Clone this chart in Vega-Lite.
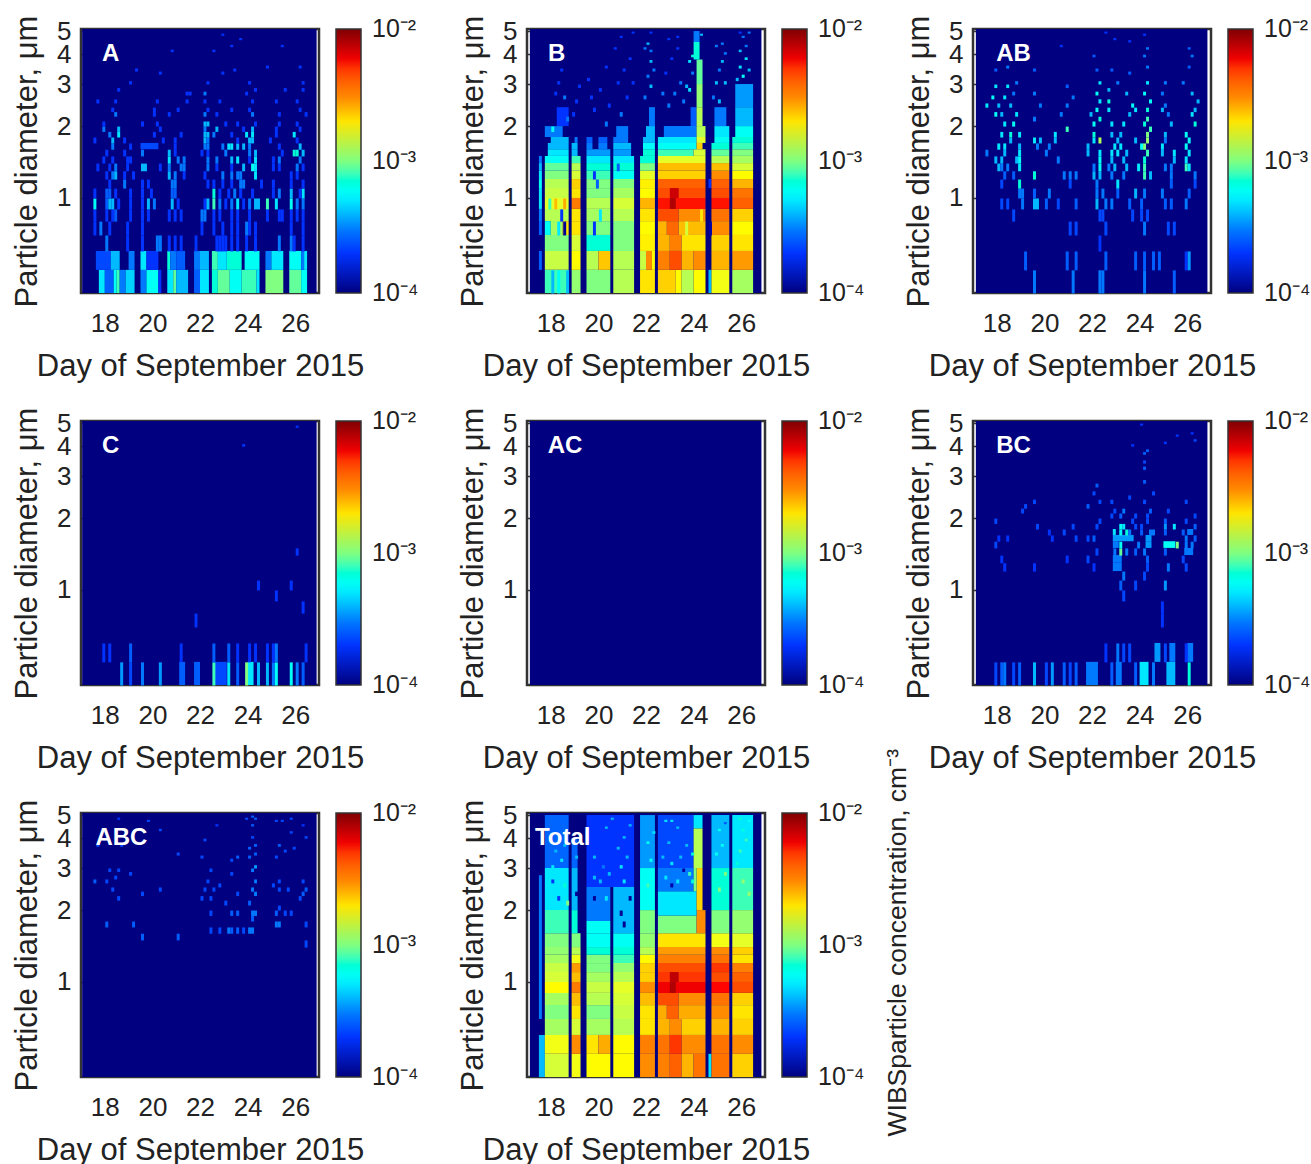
{"$schema":"https://vega.github.io/schema/vega-lite/v6.json","padding":{"left":10,"top":8,"right":0,"bottom":0},"background":"white","config":{"font":"Liberation Sans","axis":{"labelColor":"#222","titleColor":"#222","labelFontWeight":"normal","titleFontWeight":"normal"}},"data":{"values":[
{"p":"A","d":17.05,"e":26.9,"s":0.4,"t":5.1,"v":1e-4},{"p":"B","d":17.12,"e":26.85,"s":0.4,"t":5.1,"v":1e-4},{"p":"AB","d":17.12,"e":26.85,"s":0.4,"t":5.1,"v":1e-4},{"p":"C","d":17.05,"e":26.9,"s":0.4,"t":5.1,"v":1e-4},{"p":"AC","d":17.12,"e":26.85,"s":0.4,"t":5.1,"v":1e-4},{"p":"BC","d":17.12,"e":26.85,"s":0.4,"t":5.1,"v":1e-4},{"p":"ABC","d":17.05,"e":26.9,"s":0.4,"t":5.1,"v":1e-4},{"p":"Total","d":17.12,"e":26.85,"s":0.4,"t":5.1,"v":1e-4},
{"p":"A","k":"A","d":18.25,"s":4},{"p":"B","k":"B","d":18.25,"s":4},{"p":"AB","k":"AB","d":18.7,"s":4},{"p":"C","k":"C","d":18.25,"s":4},{"p":"AC","k":"AC","d":18.6,"s":4},{"p":"BC","k":"BC","d":18.7,"s":4},{"p":"ABC","k":"ABC","d":18.7,"s":4},{"p":"Total","k":"Total","d":18.5,"s":4},
{"p":"Total","w":"WIBSparticle concentration, cm⁻³","d":32.6,"s":1.46},
{"p":"A","d":17.75,"e":18,"s":0.4,"t":0.5,"v":5e-4},{"p":"A","d":18,"e":18.375,"s":0.4,"t":0.5,"v":2.5e-4},{"p":"A","d":18.375,"e":18.5,"s":0.4,"t":0.5,"v":6e-4},{"p":"A","d":18.5,"e":18.625,"s":0.4,"t":0.5,"v":8e-4},{"p":"A","d":18.625,"e":18.875,"s":0.4,"t":0.5,"v":3e-4},{"p":"A","d":18.875,"e":19.25,"s":0.4,"t":0.5,"v":4.5e-4},{"p":"A","d":19.5,"e":19.75,"s":0.4,"t":0.5,"v":3e-4},{"p":"A","d":19.75,"e":20.25,"s":0.4,"t":0.5,"v":6e-4},{"p":"A","d":20.25,"e":20.375,"s":0.4,"t":0.5,"v":2e-4},{"p":"A","d":20.625,"e":20.875,"s":0.4,"t":0.5,"v":5e-4},{"p":"A","d":20.875,"e":21,"s":0.4,"t":0.5,"v":9e-4},{"p":"A","d":21,"e":21.5,"s":0.4,"t":0.5,"v":4e-4},{"p":"A","d":21.75,"e":22,"s":0.4,"t":0.5,"v":2.5e-4},{"p":"A","d":22,"e":22.375,"s":0.4,"t":0.5,"v":5e-4},{"p":"A","d":22.5,"e":22.75,"s":0.4,"t":0.5,"v":7e-4},{"p":"A","d":22.75,"e":23.25,"s":0.4,"t":0.5,"v":9e-4},{"p":"A","d":23.25,"e":23.75,"s":0.4,"t":0.5,"v":6e-4},{"p":"A","d":23.75,"e":24.375,"s":0.4,"t":0.5,"v":8e-4},{"p":"A","d":24.375,"e":24.5,"s":0.4,"t":0.5,"v":5e-4},{"p":"A","d":24.75,"e":25.5,"s":0.4,"t":0.5,"v":1e-3},{"p":"A","d":25.75,"e":26.25,"s":0.4,"t":0.5,"v":9e-4},{"p":"A","d":26.25,"e":26.5,"s":0.4,"t":0.5,"v":6e-4},
{"p":"A","d":17.625,"e":18.25,"s":0.5,"t":0.6,"v":2.2e-4},{"p":"A","d":18.25,"e":18.625,"s":0.5,"t":0.6,"v":4e-4},{"p":"A","d":19,"e":19.25,"s":0.5,"t":0.6,"v":3e-4},{"p":"A","d":19.5,"e":19.75,"s":0.5,"t":0.6,"v":5e-4},{"p":"A","d":19.75,"e":20.25,"s":0.5,"t":0.6,"v":2e-4},{"p":"A","d":20.625,"e":20.75,"s":0.5,"t":0.6,"v":7e-4},{"p":"A","d":20.75,"e":21,"s":0.5,"t":0.6,"v":3e-4},{"p":"A","d":21,"e":21.375,"s":0.5,"t":0.6,"v":2.5e-4},{"p":"A","d":21.75,"e":22,"s":0.5,"t":0.6,"v":3e-4},{"p":"A","d":22,"e":22.375,"s":0.5,"t":0.6,"v":4e-4},{"p":"A","d":22.5,"e":22.75,"s":0.5,"t":0.6,"v":8e-4},{"p":"A","d":22.75,"e":23.125,"s":0.5,"t":0.6,"v":5e-4},{"p":"A","d":23.125,"e":23.75,"s":0.5,"t":0.6,"v":7e-4},{"p":"A","d":23.875,"e":24.5,"s":0.5,"t":0.6,"v":6e-4},{"p":"A","d":24.75,"e":25,"s":0.5,"t":0.6,"v":3e-4},{"p":"A","d":25,"e":25.5,"s":0.5,"t":0.6,"v":5e-4},{"p":"A","d":25.75,"e":26.25,"s":0.5,"t":0.6,"v":6e-4},{"p":"A","d":26.25,"e":26.375,"s":0.5,"t":0.6,"v":3e-4},{"p":"A","d":26.375,"e":26.5,"s":0.5,"t":0.6,"v":5e-4},
{"p":"A","d":18,"s":0.6,"v":3e-4},{"p":"A","d":18.875,"s":0.6,"v":2e-4},{"p":"A","d":19.5,"s":0.6,"v":2e-4},{"p":"A","d":20.125,"s":0.6,"v":3e-4},{"p":"A","d":20.25,"s":0.6,"v":3e-4},{"p":"A","d":20.625,"s":0.6,"v":2e-4},{"p":"A","d":20.875,"s":0.6,"v":2e-4},{"p":"A","d":21.125,"s":0.6,"v":2e-4},{"p":"A","d":21.75,"s":0.6,"v":2e-4},{"p":"A","d":22.625,"s":0.6,"v":2e-4},{"p":"A","d":22.75,"s":0.6,"v":2e-4},{"p":"A","d":22.875,"s":0.6,"v":2e-4},{"p":"A","d":23,"s":0.6,"v":2e-4},{"p":"A","d":23.25,"s":0.6,"v":2e-4},{"p":"A","d":23.5,"s":0.6,"v":2e-4},{"p":"A","d":23.875,"s":0.6,"v":2e-4},{"p":"A","d":24.25,"s":0.6,"v":2e-4},{"p":"A","d":25.25,"s":0.6,"v":3e-4},{"p":"A","d":25.75,"s":0.6,"v":3e-4},{"p":"A","d":25.875,"s":0.6,"v":2e-4},{"p":"A","d":26.25,"s":0.6,"v":2e-4},
{"p":"A","d":17.5,"s":0.7,"v":2e-4},{"p":"A","d":17.75,"s":0.7,"v":3e-4},{"p":"A","d":18.125,"s":0.7,"v":2e-4},{"p":"A","d":18.875,"s":0.7,"v":2e-4},{"p":"A","d":19.5,"s":0.7,"v":2e-4},{"p":"A","d":22,"s":0.7,"v":2e-4},{"p":"A","d":22.5,"s":0.7,"v":2e-4},{"p":"A","d":22.875,"s":0.7,"v":2e-4},{"p":"A","d":23.25,"s":0.7,"v":2e-4},{"p":"A","d":23.5,"s":0.7,"v":2e-4},{"p":"A","d":23.875,"s":0.7,"v":3e-4},{"p":"A","d":24,"s":0.7,"v":2e-4},{"p":"A","d":24.25,"s":0.7,"v":2e-4},{"p":"A","d":25.75,"s":0.7,"v":2e-4},{"p":"A","d":26.25,"s":0.7,"v":2e-4},
{"p":"A","d":17.5,"s":0.8,"v":2e-4},{"p":"A","d":18,"s":0.8,"v":2e-4},{"p":"A","d":18.25,"s":0.8,"v":2e-4},{"p":"A","d":18.375,"s":0.8,"v":2.5e-4},{"p":"A","d":19,"s":0.8,"v":2e-4},{"p":"A","d":19.5,"s":0.8,"v":2e-4},{"p":"A","d":19.75,"s":0.8,"v":2e-4},{"p":"A","d":20.625,"s":0.8,"v":2e-4},{"p":"A","d":20.875,"s":0.8,"v":2e-4},{"p":"A","d":21.125,"s":0.8,"v":2e-4},{"p":"A","d":22,"s":0.8,"v":3e-4},{"p":"A","d":22.125,"s":0.8,"v":3e-4},{"p":"A","d":22.5,"s":0.8,"v":2e-4},{"p":"A","d":22.75,"s":0.8,"v":2e-4},{"p":"A","d":23.25,"s":0.8,"v":2e-4},{"p":"A","d":23.5,"s":0.8,"v":2e-4},{"p":"A","d":24,"s":0.8,"v":2e-4},{"p":"A","d":24.75,"s":0.8,"v":2e-4},{"p":"A","d":25.25,"s":0.8,"v":2e-4},{"p":"A","d":25.375,"s":0.8,"v":2e-4},{"p":"A","d":25.75,"s":0.8,"v":2e-4},{"p":"A","d":26,"s":0.8,"v":2e-4},{"p":"A","d":26.25,"s":0.8,"v":2e-4},
{"p":"A","d":17.5,"s":0.9,"v":6e-4},{"p":"A","d":18,"s":0.9,"v":2.5e-4},{"p":"A","d":18.125,"s":0.9,"v":4e-4},{"p":"A","d":18.25,"s":0.9,"v":4e-4},{"p":"A","d":18.5,"s":0.9,"v":2e-4},{"p":"A","d":19,"s":0.9,"v":2e-4},{"p":"A","d":19.5,"s":0.9,"v":2e-4},{"p":"A","d":19.75,"s":0.9,"v":4e-4},{"p":"A","d":20,"s":0.9,"v":3e-4},{"p":"A","d":20.75,"s":0.9,"v":4e-4},{"p":"A","d":21,"s":0.9,"v":2e-4},{"p":"A","d":22.125,"s":0.9,"v":2e-4},{"p":"A","d":22.25,"s":0.9,"v":4e-4},{"p":"A","d":22.5,"s":0.9,"v":8e-4},{"p":"A","d":22.75,"s":0.9,"v":3e-4},{"p":"A","d":23,"s":0.9,"v":2e-4},{"p":"A","d":23.25,"s":0.9,"v":3e-4},{"p":"A","d":23.5,"s":0.9,"v":5e-4},{"p":"A","d":23.75,"s":0.9,"v":2e-4},{"p":"A","d":24,"s":0.9,"v":3e-4},{"p":"A","d":24.25,"s":0.9,"v":4e-4},{"p":"A","d":24.375,"s":0.9,"v":4e-4},{"p":"A","d":24.75,"s":0.9,"v":8e-4},{"p":"A","d":25.125,"s":0.9,"v":5e-4},{"p":"A","d":25.75,"s":0.9,"v":6e-4},{"p":"A","d":26,"s":0.9,"v":3e-4},{"p":"A","d":26.25,"s":0.9,"v":3e-4},
{"p":"A","d":17.5,"s":1,"v":2e-4},{"p":"A","d":18,"s":1,"v":2.5e-4},{"p":"A","d":18.125,"s":1,"v":2.5e-4},{"p":"A","d":18.375,"s":1,"v":2e-4},{"p":"A","d":19,"s":1,"v":2e-4},{"p":"A","d":19.5,"s":1,"v":2e-4},{"p":"A","d":19.875,"s":1,"v":2e-4},{"p":"A","d":20.75,"s":1,"v":2.5e-4},{"p":"A","d":20.875,"s":1,"v":2.5e-4},{"p":"A","d":22.5,"s":1,"v":7e-4},{"p":"A","d":22.75,"s":1,"v":2e-4},{"p":"A","d":23.125,"s":1,"v":2e-4},{"p":"A","d":23.375,"s":1,"v":3e-4},{"p":"A","d":23.625,"s":1,"v":2e-4},{"p":"A","d":24.125,"s":1,"v":2e-4},{"p":"A","d":25,"s":1,"v":2e-4},{"p":"A","d":25.25,"s":1,"v":3e-4},{"p":"A","d":25.75,"s":1,"v":4e-4},{"p":"A","d":26.25,"s":1,"v":5e-4},{"p":"A","d":26.125,"s":1,"v":2e-4},
{"p":"A","d":18.125,"s":1.1,"v":2e-4},{"p":"A","d":18.75,"s":1.1,"v":3e-4},{"p":"A","d":19.5,"s":1.1,"v":2e-4},{"p":"A","d":19.75,"s":1.1,"v":2e-4},{"p":"A","d":20.75,"s":1.1,"v":3e-4},{"p":"A","d":20.875,"s":1.1,"v":3e-4},{"p":"A","d":22.25,"s":1.1,"v":2e-4},{"p":"A","d":22.5,"s":1.1,"v":2e-4},{"p":"A","d":22.875,"s":1.1,"v":2e-4},{"p":"A","d":23.25,"s":1.1,"v":2e-4},{"p":"A","d":23.625,"s":1.1,"v":3e-4},{"p":"A","d":23.75,"s":1.1,"v":3e-4},{"p":"A","d":24.5,"s":1.1,"v":2e-4},{"p":"A","d":25,"s":1.1,"v":2e-4},{"p":"A","d":25.75,"s":1.1,"v":2e-4},{"p":"A","d":26.25,"s":1.1,"v":2e-4},
{"p":"A","d":18,"s":1.2,"v":2e-4},{"p":"A","d":18.25,"s":1.2,"v":3e-4},{"p":"A","d":18.375,"s":1.2,"v":4e-4},{"p":"A","d":18.75,"s":1.2,"v":2e-4},{"p":"A","d":19.125,"s":1.2,"v":2e-4},{"p":"A","d":20.625,"s":1.2,"v":4e-4},{"p":"A","d":20.875,"s":1.2,"v":3e-4},{"p":"A","d":21.25,"s":1.2,"v":2e-4},{"p":"A","d":22.125,"s":1.2,"v":2e-4},{"p":"A","d":22.875,"s":1.2,"v":3e-4},{"p":"A","d":23.25,"s":1.2,"v":3e-4},{"p":"A","d":23.5,"s":1.2,"v":3e-4},{"p":"A","d":23.625,"s":1.2,"v":3e-4},{"p":"A","d":24.25,"s":1.2,"v":5e-4},{"p":"A","d":25.75,"s":1.2,"v":2e-4},{"p":"A","d":26,"s":1.2,"v":2e-4},
{"p":"A","d":17.625,"s":1.3,"v":2e-4},{"p":"A","d":18.125,"s":1.3,"v":2e-4},{"p":"A","d":18.375,"s":1.3,"v":3e-4},{"p":"A","d":18.875,"s":1.3,"v":2e-4},{"p":"A","d":19.5,"s":1.3,"v":4e-4},{"p":"A","d":19.625,"s":1.3,"v":4e-4},{"p":"A","d":20.25,"s":1.3,"v":2e-4},{"p":"A","d":20.625,"s":1.3,"v":3e-4},{"p":"A","d":21.125,"s":1.3,"v":3e-4},{"p":"A","d":21.25,"s":1.3,"v":3e-4},{"p":"A","d":22.25,"s":1.3,"v":3e-4},{"p":"A","d":22.625,"s":1.3,"v":2e-4},{"p":"A","d":23.25,"s":1.3,"v":2e-4},{"p":"A","d":23.75,"s":1.3,"v":4e-4},{"p":"A","d":24.125,"s":1.3,"v":6e-4},{"p":"A","d":24.25,"s":1.3,"v":5e-4},{"p":"A","d":25,"s":1.3,"v":2e-4},{"p":"A","d":25.25,"s":1.3,"v":2e-4},{"p":"A","d":26,"s":1.3,"v":3e-4},{"p":"A","d":26.25,"s":1.3,"v":2e-4},
{"p":"A","d":17.875,"s":1.4,"v":2e-4},{"p":"A","d":18.25,"s":1.4,"v":2e-4},{"p":"A","d":18.875,"s":1.4,"v":2e-4},{"p":"A","d":19,"s":1.4,"v":2e-4},{"p":"A","d":20.625,"s":1.4,"v":5e-4},{"p":"A","d":21,"s":1.4,"v":3e-4},{"p":"A","d":21.25,"s":1.4,"v":3e-4},{"p":"A","d":22.25,"s":1.4,"v":3e-4},{"p":"A","d":22.625,"s":1.4,"v":3e-4},{"p":"A","d":23.25,"s":1.4,"v":4e-4},{"p":"A","d":23.5,"s":1.4,"v":5e-4},{"p":"A","d":24,"s":1.4,"v":2e-4},{"p":"A","d":24.25,"s":1.4,"v":5e-4},{"p":"A","d":25,"s":1.4,"v":2e-4},{"p":"A","d":25.25,"s":1.4,"v":3e-4},{"p":"A","d":26.125,"s":1.4,"v":3e-4},
{"p":"A","d":18,"s":1.5,"v":2e-4},{"p":"A","d":18.75,"s":1.5,"v":2e-4},{"p":"A","d":19.5,"s":1.5,"v":3e-4},{"p":"A","d":20.625,"s":1.5,"v":4e-4},{"p":"A","d":20.875,"s":1.5,"v":2e-4},{"p":"A","d":22,"s":1.5,"v":2e-4},{"p":"A","d":22.25,"s":1.5,"v":2e-4},{"p":"A","d":23,"s":1.5,"v":3e-4},{"p":"A","d":24,"s":1.5,"v":3e-4},{"p":"A","d":24.25,"s":1.5,"v":4e-4},{"p":"A","d":25.375,"s":1.5,"v":2e-4},{"p":"A","d":25.875,"s":1.5,"v":7e-4},{"p":"A","d":26,"s":1.5,"v":7e-4},{"p":"A","d":26.25,"s":1.5,"v":4e-4},
{"p":"A","d":18.25,"s":1.6,"v":3e-4},{"p":"A","d":19,"s":1.6,"v":2e-4},{"p":"A","d":19.5,"e":20.25,"s":1.6,"t":1.7,"v":2.2e-4},{"p":"A","d":20.875,"s":1.6,"v":2e-4},{"p":"A","d":22.125,"s":1.6,"v":3e-4},{"p":"A","d":22.25,"s":1.6,"v":3e-4},{"p":"A","d":22.875,"s":1.6,"v":3e-4},{"p":"A","d":23.125,"s":1.6,"v":5e-4},{"p":"A","d":23.25,"s":1.6,"v":5e-4},{"p":"A","d":23.5,"s":1.6,"v":4e-4},{"p":"A","d":23.75,"s":1.6,"v":4e-4},{"p":"A","d":24,"s":1.6,"v":3e-4},{"p":"A","d":25.25,"s":1.6,"v":2e-4},{"p":"A","d":26.125,"s":1.6,"v":4e-4},
{"p":"A","d":17.5,"s":1.7,"v":2e-4},{"p":"A","d":18.25,"s":1.7,"v":4e-4},{"p":"A","d":18.75,"s":1.7,"v":2e-4},{"p":"A","d":20.375,"s":1.7,"v":2e-4},{"p":"A","d":20.875,"s":1.7,"v":2e-4},{"p":"A","d":22.125,"s":1.7,"v":4e-4},{"p":"A","d":22.25,"s":1.7,"v":3e-4},{"p":"A","d":23.5,"s":1.7,"v":2e-4},{"p":"A","d":24,"s":1.7,"v":4e-4},{"p":"A","d":24.125,"s":1.7,"v":4e-4},{"p":"A","d":24.875,"s":1.7,"v":2e-4},{"p":"A","d":26,"s":1.7,"v":2e-4},
{"p":"A","d":18.125,"s":1.8,"v":3e-4},{"p":"A","d":18.5,"s":1.8,"v":5e-4},{"p":"A","d":20,"s":1.8,"v":2e-4},{"p":"A","d":21.125,"s":1.8,"v":2e-4},{"p":"A","d":22.125,"s":1.8,"v":4e-4},{"p":"A","d":22.25,"s":1.8,"v":4e-4},{"p":"A","d":22.5,"s":1.8,"v":3e-4},{"p":"A","d":23.25,"s":1.8,"v":2e-4},{"p":"A","d":23.875,"s":1.8,"v":5e-4},{"p":"A","d":24.125,"s":1.8,"v":5e-4},{"p":"A","d":25.125,"s":1.8,"v":2e-4},{"p":"A","d":25.875,"s":1.8,"v":5e-4},
{"p":"A","d":17.875,"s":1.9,"v":3e-4},{"p":"A","d":18.5,"s":1.9,"v":4e-4},{"p":"A","d":20.25,"s":1.9,"v":2e-4},{"p":"A","d":22.125,"s":1.9,"v":3e-4},{"p":"A","d":22.625,"s":1.9,"v":4e-4},{"p":"A","d":23.75,"s":1.9,"v":2e-4},{"p":"A","d":24.125,"s":1.9,"v":4e-4},{"p":"A","d":25.125,"s":1.9,"v":2e-4},{"p":"A","d":26.125,"s":1.9,"v":2e-4},
{"p":"A","d":17.875,"s":2,"v":2e-4},{"p":"A","d":19.5,"s":2,"v":2e-4},{"p":"A","d":20.125,"s":2,"v":2e-4},{"p":"A","d":22.125,"s":2,"v":4e-4},{"p":"A","d":22.25,"s":2,"v":4e-4},{"p":"A","d":23,"s":2,"v":2e-4},{"p":"A","d":23.5,"s":2,"v":2e-4},{"p":"A","d":24.25,"s":2,"v":2e-4},{"p":"A","d":25.25,"s":2,"v":2e-4},{"p":"A","d":26,"s":2,"v":2e-4},
{"p":"A","d":18.375,"s":2.2,"v":3e-4},{"p":"A","d":20,"s":2.2,"v":2e-4},{"p":"A","d":20.625,"s":2.2,"v":2e-4},{"p":"A","d":22.125,"s":2.2,"v":3e-4},{"p":"A","d":22.625,"s":2.2,"v":2e-4},{"p":"A","d":24.125,"s":2.2,"v":3e-4},{"p":"A","d":25.25,"s":2.2,"v":2e-4},{"p":"A","d":26.375,"s":2.2,"v":2e-4},
{"p":"A","d":18.25,"s":2.3,"v":2e-4},{"p":"A","d":20,"s":2.3,"v":2e-4},{"p":"A","d":21,"s":2.3,"v":2e-4},{"p":"A","d":22.25,"s":2.3,"v":2e-4},{"p":"A","d":23.25,"s":2.3,"v":2e-4},{"p":"A","d":24,"s":2.3,"v":2e-4},{"p":"A","d":26.125,"s":2.3,"v":2e-4},
{"p":"A","d":17.625,"s":2.5,"v":2e-4},{"p":"A","d":18.375,"s":2.5,"v":2e-4},{"p":"A","d":20.125,"s":2.5,"v":2e-4},{"p":"A","d":21.375,"s":2.5,"v":2e-4},{"p":"A","d":22.125,"s":2.5,"v":2e-4},{"p":"A","d":22.75,"s":2.5,"v":2e-4},{"p":"A","d":24.125,"s":2.5,"v":2e-4},{"p":"A","d":25.125,"s":2.5,"v":2e-4},{"p":"A","d":26,"s":2.5,"v":2e-4},
{"p":"A","d":18.5,"s":2.8,"v":2e-4},{"p":"A","d":21.375,"s":2.7,"v":2e-4},{"p":"A","d":21.5,"s":2.7,"v":2e-4},{"p":"A","d":22.125,"s":2.7,"v":3e-4},{"p":"A","d":23.875,"s":2.7,"v":2e-4},{"p":"A","d":24.25,"s":2.8,"v":2e-4},{"p":"A","d":25.5,"s":2.8,"v":2e-4},{"p":"A","d":26.25,"s":2.8,"v":2e-4},{"p":"A","d":19,"s":3,"v":2e-4},{"p":"A","d":22.25,"s":3,"v":2e-4},{"p":"A","d":24,"s":3,"v":2e-4},{"p":"A","d":26.25,"s":3,"v":2e-4},{"p":"A","d":19.25,"s":3.4,"v":2e-4},{"p":"A","d":20.25,"s":3.3,"v":2e-4},{"p":"A","d":22.875,"s":3.3,"v":2e-4},{"p":"A","d":23.375,"s":3.4,"v":2e-4},{"p":"A","d":24.75,"s":3.5,"v":2e-4},{"p":"A","d":26.125,"s":3.5,"v":2e-4},{"p":"A","d":20.75,"s":4.1,"v":2e-4},{"p":"A","d":22.5,"s":4.1,"v":2e-4},{"p":"A","d":23.25,"s":4.3,"v":2e-4},{"p":"A","d":25.375,"s":4.3,"v":2e-4},{"p":"A","d":22.875,"s":4.8,"v":2e-4},{"p":"A","d":23.625,"s":4.6,"v":2e-4},
{"p":"B","d":17.75,"e":18.75,"s":0.4,"t":0.5,"v":8e-4},{"p":"B","d":18.875,"e":19.25,"s":0.4,"t":0.5,"v":1.1e-3},{"p":"B","d":19.5,"e":20.5,"s":0.4,"t":0.5,"v":1e-3},{"p":"B","d":20.625,"e":21.5,"s":0.4,"t":0.5,"v":1.3e-3},{"p":"B","d":21.75,"e":22.375,"s":0.4,"t":0.5,"v":2e-3},{"p":"B","d":22.5,"e":23.25,"s":0.4,"t":0.5,"v":2.2e-3},{"p":"B","d":23.25,"e":23.5,"s":0.4,"t":0.5,"v":1.8e-3},{"p":"B","d":23.5,"e":24,"s":0.4,"t":0.5,"v":1.3e-3},{"p":"B","d":24,"e":24.5,"s":0.4,"t":0.5,"v":1.8e-3},{"p":"B","d":24.625,"e":24.75,"s":0.4,"t":0.5,"v":4e-4},{"p":"B","d":24.75,"e":25.5,"s":0.4,"t":0.5,"v":1.7e-3},{"p":"B","d":25.625,"e":26.5,"s":0.4,"t":0.5,"v":1.2e-3},
{"p":"B","d":17.5,"e":17.625,"s":0.5,"t":0.6,"v":2.5e-4},{"p":"B","d":17.75,"e":18.75,"s":0.5,"t":0.6,"v":1.4e-3},{"p":"B","d":18.875,"e":19.25,"s":0.5,"t":0.6,"v":1.8e-3},{"p":"B","d":19.5,"e":20,"s":0.5,"t":0.6,"v":1.3e-3},{"p":"B","d":20,"e":20.5,"s":0.5,"t":0.6,"v":2.3e-3},{"p":"B","d":20.625,"e":21.5,"s":0.5,"t":0.6,"v":1.3e-3},{"p":"B","d":21.75,"e":22,"s":0.5,"t":0.6,"v":1.4e-3},{"p":"B","d":22,"e":22.25,"s":0.5,"t":0.6,"v":3e-3},{"p":"B","d":22.25,"e":22.375,"s":0.5,"t":0.6,"v":1.8e-3},{"p":"B","d":22.5,"e":23,"s":0.5,"t":0.6,"v":3.2e-3},{"p":"B","d":23,"e":23.5,"s":0.5,"t":0.6,"v":4.5e-3},{"p":"B","d":23.5,"e":24,"s":0.5,"t":0.6,"v":2.5e-3},{"p":"B","d":24,"e":24.5,"s":0.5,"t":0.6,"v":3e-3},{"p":"B","d":24.75,"e":25.5,"s":0.5,"t":0.6,"v":2.5e-3},{"p":"B","d":25.625,"e":26.5,"s":0.5,"t":0.6,"v":2.8e-3},
{"p":"B","d":17.75,"e":18.75,"s":0.6,"t":0.7,"v":1e-3},{"p":"B","d":18.875,"e":19.25,"s":0.6,"t":0.7,"v":1.5e-3},{"p":"B","d":19.5,"e":20.5,"s":0.6,"t":0.7,"v":7e-4},{"p":"B","d":20.625,"e":21.5,"s":0.6,"t":0.7,"v":1e-3},{"p":"B","d":21.75,"e":22.375,"s":0.6,"t":0.7,"v":1.9e-3},{"p":"B","d":22.5,"e":23,"s":0.6,"t":0.7,"v":2.5e-3},{"p":"B","d":23,"e":23.5,"s":0.6,"t":0.7,"v":3.2e-3},{"p":"B","d":23.5,"e":24.5,"s":0.6,"t":0.7,"v":2e-3},{"p":"B","d":24.75,"e":25.5,"s":0.6,"t":0.7,"v":2.2e-3},{"p":"B","d":25.625,"e":26.5,"s":0.6,"t":0.7,"v":2e-3},
{"p":"B","d":17.5,"e":17.625,"s":0.7,"t":0.8,"v":2.5e-4},{"p":"B","d":17.75,"e":18,"s":0.7,"t":0.8,"v":6e-4},{"p":"B","d":18,"e":18.5,"s":0.7,"t":0.8,"v":1.2e-3},{"p":"B","d":18.5,"e":18.75,"s":0.7,"t":0.8,"v":2e-3},{"p":"B","d":18.875,"e":19.25,"s":0.7,"t":0.8,"v":2e-3},{"p":"B","d":19.5,"e":20.5,"s":0.7,"t":0.8,"v":1e-3},{"p":"B","d":20.625,"e":21.5,"s":0.7,"t":0.8,"v":1e-3},{"p":"B","d":21.75,"e":22.375,"s":0.7,"t":0.8,"v":1.8e-3},{"p":"B","d":22.5,"e":22.875,"s":0.7,"t":0.8,"v":2.5e-3},{"p":"B","d":22.875,"e":23.375,"s":0.7,"t":0.8,"v":3.8e-3},{"p":"B","d":23.375,"e":24.5,"s":0.7,"t":0.8,"v":2.4e-3},{"p":"B","d":24.75,"e":25.5,"s":0.7,"t":0.8,"v":3e-3},{"p":"B","d":25.625,"e":26.5,"s":0.7,"t":0.8,"v":1.8e-3},
{"p":"B","d":17.5,"e":17.625,"s":0.8,"t":0.9,"v":3e-4},{"p":"B","d":17.75,"e":18.75,"s":0.8,"t":0.9,"v":1.3e-3},{"p":"B","d":18.875,"e":19.25,"s":0.8,"t":0.9,"v":2e-3},{"p":"B","d":19.5,"e":20.5,"s":0.8,"t":0.9,"v":1.2e-3},{"p":"B","d":20.625,"e":21.5,"s":0.8,"t":0.9,"v":1.3e-3},{"p":"B","d":21.75,"e":22.375,"s":0.8,"t":0.9,"v":2e-3},{"p":"B","d":22.5,"e":23.375,"s":0.8,"t":0.9,"v":4.5e-3},{"p":"B","d":23.375,"e":24.5,"s":0.8,"t":0.9,"v":3e-3},{"p":"B","d":24.75,"e":25.5,"s":0.8,"t":0.9,"v":3.5e-3},{"p":"B","d":25.625,"e":26.5,"s":0.8,"t":0.9,"v":2.2e-3},
{"p":"B","d":17.5,"e":17.625,"s":0.9,"t":1,"v":5e-4},{"p":"B","d":17.75,"e":18.75,"s":0.9,"t":1,"v":1.6e-3},{"p":"B","d":18.875,"e":19.25,"s":0.9,"t":1,"v":3.3e-3},{"p":"B","d":19.5,"e":20.5,"s":0.9,"t":1,"v":1.3e-3},{"p":"B","d":20.625,"e":21.5,"s":0.9,"t":1,"v":1.5e-3},{"p":"B","d":21.75,"e":22.375,"s":0.9,"t":1,"v":2.5e-3},{"p":"B","d":22.5,"e":24.5,"s":0.9,"t":1,"v":5.5e-3},{"p":"B","d":23,"e":23.25,"s":0.9,"t":1,"v":8e-3},{"p":"B","d":24.75,"e":25.5,"s":0.9,"t":1,"v":5.5e-3},{"p":"B","d":25.625,"e":26.5,"s":0.9,"t":1,"v":4e-3},
{"p":"B","d":17.5,"e":17.625,"s":1,"t":1.1,"v":5e-4},{"p":"B","d":17.75,"e":18.75,"s":1,"t":1.1,"v":1.4e-3},{"p":"B","d":18.875,"e":19.25,"s":1,"t":1.1,"v":2e-3},{"p":"B","d":19.5,"e":20.5,"s":1,"t":1.1,"v":1e-3},{"p":"B","d":20.625,"e":21.5,"s":1,"t":1.1,"v":1.2e-3},{"p":"B","d":21.75,"e":22.375,"s":1,"t":1.1,"v":1.8e-3},{"p":"B","d":22.5,"e":24.5,"s":1,"t":1.1,"v":4.5e-3},{"p":"B","d":23,"e":23.375,"s":1,"t":1.1,"v":7e-3},{"p":"B","d":24.75,"e":25.5,"s":1,"t":1.1,"v":4.5e-3},{"p":"B","d":25.625,"e":26.5,"s":1,"t":1.1,"v":3.5e-3},
{"p":"B","d":17.5,"e":17.625,"s":1.1,"t":1.2,"v":6e-4},{"p":"B","d":17.75,"e":18.75,"s":1.1,"t":1.2,"v":1.3e-3},{"p":"B","d":18.875,"e":19.25,"s":1.1,"t":1.2,"v":2.2e-3},{"p":"B","d":19.5,"e":20.5,"s":1.1,"t":1.2,"v":1e-3},{"p":"B","d":20.625,"e":21.5,"s":1.1,"t":1.2,"v":1e-3},{"p":"B","d":21.75,"e":22.375,"s":1.1,"t":1.2,"v":1.9e-3},{"p":"B","d":22.5,"e":24.5,"s":1.1,"t":1.2,"v":4e-3},{"p":"B","d":24.625,"e":24.75,"s":1.1,"t":1.2,"v":2e-4},{"p":"B","d":24.75,"e":25.5,"s":1.1,"t":1.2,"v":4e-3},{"p":"B","d":25.625,"e":26.5,"s":1.1,"t":1.2,"v":2.5e-3},
{"p":"B","d":17.5,"e":17.625,"s":1.2,"t":1.3,"v":5e-4},{"p":"B","d":17.75,"e":18.75,"s":1.2,"t":1.3,"v":1e-3},{"p":"B","d":18.875,"e":19.25,"s":1.2,"t":1.3,"v":1.5e-3},{"p":"B","d":19.5,"e":20.5,"s":1.2,"t":1.3,"v":8e-4},{"p":"B","d":20.625,"e":21.5,"s":1.2,"t":1.3,"v":6e-4},{"p":"B","d":21.75,"e":22.375,"s":1.2,"t":1.3,"v":1.6e-3},{"p":"B","d":22.5,"e":24.5,"s":1.2,"t":1.3,"v":2.2e-3},{"p":"B","d":24.75,"e":25.5,"s":1.2,"t":1.3,"v":3e-3},{"p":"B","d":25.625,"e":26.5,"s":1.2,"t":1.3,"v":1.8e-3},
{"p":"B","d":17.5,"e":17.625,"s":1.3,"t":1.4,"v":4e-4},{"p":"B","d":17.75,"e":18.75,"s":1.3,"t":1.4,"v":9e-4},{"p":"B","d":18.875,"e":19.25,"s":1.3,"t":1.4,"v":1.3e-3},{"p":"B","d":19.5,"e":20.5,"s":1.3,"t":1.4,"v":7e-4},{"p":"B","d":20.625,"e":21.5,"s":1.3,"t":1.4,"v":7e-4},{"p":"B","d":21.75,"e":22.375,"s":1.3,"t":1.4,"v":1e-3},{"p":"B","d":22.5,"e":24.5,"s":1.3,"t":1.4,"v":2.4e-3},{"p":"B","d":24.75,"e":25.5,"s":1.3,"t":1.4,"v":2.4e-3},{"p":"B","d":25.625,"e":26.5,"s":1.3,"t":1.4,"v":1.5e-3},
{"p":"B","d":17.5,"e":17.625,"s":1.4,"t":1.5,"v":3e-4},{"p":"B","d":17.75,"e":18.75,"s":1.4,"t":1.5,"v":6e-4},{"p":"B","d":18.875,"e":19.25,"s":1.4,"t":1.5,"v":8e-4},{"p":"B","d":19.5,"e":20.5,"s":1.4,"t":1.5,"v":5e-4},{"p":"B","d":20.625,"e":21.5,"s":1.4,"t":1.5,"v":5e-4},{"p":"B","d":21.75,"e":22.375,"s":1.4,"t":1.5,"v":7e-4},{"p":"B","d":22.5,"e":24.5,"s":1.4,"t":1.5,"v":1.6e-3},{"p":"B","d":24.75,"e":25.5,"s":1.4,"t":1.5,"v":1.3e-3},{"p":"B","d":25.625,"e":26.5,"s":1.4,"t":1.5,"v":1.2e-3},
{"p":"B","d":17.875,"e":18.75,"s":1.5,"t":1.6,"v":5e-4},{"p":"B","d":18.875,"e":19.125,"s":1.5,"t":1.6,"v":4e-4},{"p":"B","d":19.5,"e":20.5,"s":1.5,"t":1.6,"v":3.5e-4},{"p":"B","d":20.625,"e":21.375,"s":1.5,"t":1.6,"v":3.5e-4},{"p":"B","d":21.875,"e":22.375,"s":1.5,"t":1.6,"v":7e-4},{"p":"B","d":22.5,"e":24,"s":1.5,"t":1.6,"v":8e-4},{"p":"B","d":24,"e":24.5,"s":1.5,"t":1.6,"v":1.5e-3},{"p":"B","d":24.75,"e":25.5,"s":1.5,"t":1.6,"v":9e-4},{"p":"B","d":25.625,"e":26.5,"s":1.5,"t":1.6,"v":1e-3},
{"p":"B","d":17.875,"e":18.75,"s":1.6,"t":1.7,"v":4e-4},{"p":"B","d":18.875,"e":19.125,"s":1.6,"t":1.7,"v":4e-4},{"p":"B","d":19.5,"e":19.75,"s":1.6,"t":1.7,"v":3e-4},{"p":"B","d":20,"e":20.375,"s":1.6,"t":1.7,"v":3e-4},{"p":"B","d":20.625,"e":21.375,"s":1.6,"t":1.7,"v":4e-4},{"p":"B","d":21.875,"e":22.375,"s":1.6,"t":1.7,"v":5.6e-4},{"p":"B","d":22.5,"e":24.125,"s":1.6,"t":1.7,"v":6e-4},{"p":"B","d":24.125,"e":24.375,"s":1.6,"t":1.7,"v":2.2e-3},{"p":"B","d":24.75,"e":25.5,"s":1.6,"t":1.7,"v":7e-4},{"p":"B","d":25.625,"e":26.5,"s":1.6,"t":1.7,"v":8e-4},
{"p":"B","d":18,"e":18.75,"s":1.7,"t":1.8,"v":4e-4},{"p":"B","d":19,"e":19.125,"s":1.7,"t":1.8,"v":3e-4},{"p":"B","d":19.5,"e":19.75,"s":1.7,"t":1.8,"v":2.5e-4},{"p":"B","d":20,"e":20.375,"s":1.7,"t":1.8,"v":2.5e-4},{"p":"B","d":20.625,"e":21.25,"s":1.7,"t":1.8,"v":3e-4},{"p":"B","d":21.875,"e":22.375,"s":1.7,"t":1.8,"v":4e-4},{"p":"B","d":22.5,"e":24.125,"s":1.7,"t":1.8,"v":5e-4},{"p":"B","d":24.125,"e":24.5,"s":1.7,"t":1.8,"v":1.6e-3},{"p":"B","d":24.875,"e":25.5,"s":1.7,"t":1.8,"v":6e-4},{"p":"B","d":25.625,"e":26.5,"s":1.7,"t":1.8,"v":7e-4},
{"p":"B","d":17.75,"e":18.5,"s":1.8,"t":2,"v":3e-4},{"p":"B","d":20.75,"e":21.25,"s":1.8,"t":2,"v":3e-4},{"p":"B","d":22,"e":22.375,"s":1.8,"t":2,"v":4e-4},{"p":"B","d":22.75,"e":24.125,"s":1.8,"t":2,"v":3e-4},{"p":"B","d":24.125,"e":24.5,"s":1.8,"t":2,"v":1.3e-3},{"p":"B","d":24.875,"e":25.5,"s":1.8,"t":2,"v":5e-4},{"p":"B","d":25.75,"e":26.5,"s":1.8,"t":2,"v":6e-4},
{"p":"B","d":18.25,"e":18.75,"s":2,"t":2.4,"v":2e-4},{"p":"B","d":22.125,"e":22.375,"s":2,"t":2.4,"v":3e-4},{"p":"B","d":23.875,"e":24.125,"s":2,"t":2.4,"v":2.5e-4},{"p":"B","d":24.125,"e":24.375,"s":2,"t":2.4,"v":1.3e-3},{"p":"B","d":24.875,"e":25.375,"s":2,"t":2.4,"v":3e-4},{"p":"B","d":25.75,"e":26.5,"s":2,"t":2.4,"v":4e-4},{"p":"B","d":24.125,"e":24.375,"s":2.4,"t":3,"v":1.1e-3},{"p":"B","d":25.75,"e":26.5,"s":2.4,"t":3,"v":3.5e-4},{"p":"B","d":24.125,"e":24.375,"s":3,"t":3.8,"v":9e-4},{"p":"B","d":24,"e":24.25,"s":3.8,"t":4.5,"v":7e-4},{"p":"B","d":24,"e":24.25,"s":4.5,"t":5,"v":3e-4},
{"p":"B","d":18,"s":1.9,"v":6e-4},{"p":"B","d":18.625,"s":2.1,"v":3e-4},{"p":"B","d":18.125,"s":2.7,"v":2e-4},{"p":"B","d":18.25,"s":3,"v":2e-4},{"p":"B","d":18.375,"s":3.4,"v":2e-4},{"p":"B","d":18.5,"s":2.6,"v":3e-4},{"p":"B","d":18.875,"s":2.2,"v":2e-4},{"p":"B","d":19,"s":2.5,"v":2e-4},{"p":"B","d":19.125,"s":2.9,"v":2e-4},{"p":"B","d":19.5,"s":3.1,"v":2e-4},{"p":"B","d":19.625,"s":2.6,"v":2e-4},{"p":"B","d":19.75,"s":2.3,"v":2e-4},{"p":"B","d":20,"s":2.8,"v":2e-4},{"p":"B","d":20.25,"s":2,"v":3e-4},{"p":"B","d":20.25,"s":3.5,"v":2e-4},{"p":"B","d":20.375,"s":2.4,"v":2e-4},{"p":"B","d":20.75,"s":3,"v":2e-4},{"p":"B","d":20.875,"s":2.2,"v":3e-4},{"p":"B","d":21,"s":3.4,"v":2e-4},{"p":"B","d":21.125,"s":2.6,"v":2e-4},{"p":"B","d":21.25,"s":3.8,"v":2e-4},{"p":"B","d":21.375,"s":3,"v":2e-4},{"p":"B","d":21.375,"s":4.9,"v":2e-4},{"p":"B","d":20.875,"s":4.7,"v":2e-4},{"p":"B","d":20.625,"s":4.2,"v":2e-4},
{"p":"B","d":21.875,"s":2.6,"v":3e-4},{"p":"B","d":22,"s":3.2,"v":3e-4},{"p":"B","d":22.125,"s":3.7,"v":4e-4},{"p":"B","d":22.125,"s":2.9,"v":4e-4},{"p":"B","d":22.25,"s":3.4,"v":3e-4},{"p":"B","d":21.875,"s":4.2,"v":3e-4},{"p":"B","d":22,"s":4.4,"v":4e-4},{"p":"B","d":22.125,"s":4.1,"v":3e-4},{"p":"B","d":22.625,"s":2.7,"v":3e-4},{"p":"B","d":22.75,"s":3.3,"v":2e-4},{"p":"B","d":22.875,"s":2.4,"v":3e-4},{"p":"B","d":23,"s":3.8,"v":2e-4},{"p":"B","d":23.125,"s":2.7,"v":3e-4},{"p":"B","d":23.25,"s":4.2,"v":2e-4},{"p":"B","d":23.375,"s":3,"v":3e-4},{"p":"B","d":23.5,"s":2.5,"v":3e-4},{"p":"B","d":23.625,"s":2.9,"v":4e-4},{"p":"B","d":23.75,"s":2.8,"v":5e-4},{"p":"B","d":23.75,"s":3.7,"v":5e-4},{"p":"B","d":23.875,"s":3.9,"v":7e-4},{"p":"B","d":23.875,"s":3.3,"v":3e-4},{"p":"B","d":24.25,"s":4.8,"v":4e-4},
{"p":"B","d":24.75,"s":2.6,"v":3e-4},{"p":"B","d":24.875,"s":3,"v":4e-4},{"p":"B","d":25,"s":3.4,"v":3e-4},{"p":"B","d":25,"s":2.5,"v":4e-4},{"p":"B","d":25.125,"s":3.7,"v":4e-4},{"p":"B","d":25.25,"s":3,"v":4e-4},{"p":"B","d":25.25,"s":4,"v":3e-4},{"p":"B","d":24.875,"s":4.3,"v":3e-4},{"p":"B","d":25.125,"s":4.4,"v":3e-4},{"p":"B","d":25.75,"s":3.1,"v":4e-4},{"p":"B","d":25.875,"s":3.5,"v":5e-4},{"p":"B","d":26,"s":3.2,"v":6e-4},{"p":"B","d":26.125,"s":3.8,"v":5e-4},{"p":"B","d":26.25,"s":3.4,"v":4e-4},{"p":"B","d":25.875,"s":4.1,"v":4e-4},{"p":"B","d":26.125,"s":4.3,"v":3e-4},{"p":"B","d":26,"s":4.7,"v":3e-4},{"p":"B","d":25.875,"s":4.9,"v":2e-4},{"p":"B","d":26.25,"s":4.9,"v":3e-4},{"p":"B","d":22.875,"s":4.6,"v":2e-4},{"p":"B","d":23.25,"s":4.7,"v":2e-4},{"p":"B","d":22.125,"s":4.9,"v":2e-4},
{"p":"B","d":18,"s":0.4,"v":4e-4},{"p":"B","d":18.25,"s":0.4,"v":6e-4},{"p":"B","d":18.625,"s":0.4,"v":4e-4},{"p":"B","d":18.25,"s":0.7,"v":5e-4},{"p":"B","d":18.5,"s":0.7,"v":1.1e-4},{"p":"B","d":18.375,"s":0.8,"v":2e-4},{"p":"B","d":17.875,"s":0.9,"v":8e-4},{"p":"B","d":18.125,"s":0.9,"v":2.4e-3},{"p":"B","d":18.5,"s":0.9,"v":2.6e-3},{"p":"B","d":19.75,"s":0.7,"v":2e-4},{"p":"B","d":19.875,"s":1.1,"v":2.5e-4},{"p":"B","d":20,"s":0.8,"v":5e-4},{"p":"B","d":20.75,"s":1.3,"v":2.5e-4},{"p":"B","d":19.75,"s":1.2,"v":2e-4},{"p":"B","d":24.625,"s":0.7,"v":1.2e-4},{"p":"B","d":23.625,"s":0.7,"v":1.5e-3},{"p":"B","d":24.25,"s":0.8,"v":2e-3},
{"p":"AB","d":19.5,"s":0.4,"v":3e-4},{"p":"AB","d":21.125,"s":0.4,"v":3e-4},{"p":"AB","d":22.25,"s":0.4,"v":3e-4},{"p":"AB","d":22.375,"s":0.4,"v":3e-4},{"p":"AB","d":24.125,"s":0.4,"v":3e-4},{"p":"AB","d":25.375,"s":0.4,"v":2.5e-4},{"p":"AB","d":19.125,"s":0.5,"v":2.5e-4},{"p":"AB","d":20.875,"s":0.5,"v":2.5e-4},{"p":"AB","d":21.25,"s":0.5,"v":2.5e-4},{"p":"AB","d":22.5,"s":0.5,"v":2.5e-4},{"p":"AB","d":23.75,"s":0.5,"v":2.5e-4},{"p":"AB","d":24.125,"s":0.5,"v":2.5e-4},{"p":"AB","d":24.5,"s":0.5,"v":2.5e-4},{"p":"AB","d":24.75,"s":0.5,"v":2.5e-4},{"p":"AB","d":25.875,"s":0.5,"v":2e-4},{"p":"AB","d":26,"s":0.5,"v":3.5e-4},{"p":"AB","d":22.25,"s":0.6,"v":2e-4},{"p":"AB","d":21,"s":0.7,"v":2.2e-4},{"p":"AB","d":21.25,"s":0.7,"v":2.2e-4},{"p":"AB","d":22.5,"s":0.7,"v":2.2e-4},{"p":"AB","d":24.125,"s":0.7,"v":3e-4},{"p":"AB","d":25.125,"s":0.7,"v":2.2e-4},{"p":"AB","d":25.375,"s":0.7,"v":2.2e-4},
{"p":"AB","d":18.625,"s":0.8,"v":2.2e-4},{"p":"AB","d":22.25,"s":0.8,"v":2.2e-4},{"p":"AB","d":22.375,"s":0.8,"v":2.2e-4},{"p":"AB","d":23.625,"s":0.8,"v":2.2e-4},{"p":"AB","d":24,"s":0.8,"v":2.2e-4},{"p":"AB","d":24.25,"s":0.8,"v":2.2e-4},
{"p":"AB","d":18.125,"s":0.9,"v":2.2e-4},{"p":"AB","d":18.375,"s":0.9,"v":2.2e-4},{"p":"AB","d":19,"s":0.9,"v":3e-4},{"p":"AB","d":19.5,"s":0.9,"v":4e-4},{"p":"AB","d":19.625,"s":0.9,"v":4e-4},{"p":"AB","d":20,"s":0.9,"v":2.5e-4},{"p":"AB","d":20.5,"s":0.9,"v":2.2e-4},{"p":"AB","d":21.25,"s":0.9,"v":2.5e-4},{"p":"AB","d":22.125,"s":0.9,"v":4e-4},{"p":"AB","d":22.5,"s":0.9,"v":3e-4},{"p":"AB","d":22.75,"s":0.9,"v":3e-4},{"p":"AB","d":23.5,"s":0.9,"v":2.5e-4},{"p":"AB","d":24,"s":0.9,"v":2.5e-4},{"p":"AB","d":25,"s":0.9,"v":2.5e-4},{"p":"AB","d":25.25,"s":0.9,"v":2.5e-4},{"p":"AB","d":25.875,"s":0.9,"v":3e-4},
{"p":"AB","d":18.875,"s":1,"v":3e-4},{"p":"AB","d":19,"s":1,"v":3e-4},{"p":"AB","d":19.5,"s":1,"v":2.5e-4},{"p":"AB","d":20.125,"s":1,"v":3e-4},{"p":"AB","d":22.125,"s":1,"v":3e-4},{"p":"AB","d":22.375,"s":1,"v":3e-4},{"p":"AB","d":23,"s":1,"v":2.5e-4},{"p":"AB","d":23.75,"s":1,"v":4e-4},{"p":"AB","d":24.125,"s":1,"v":3e-4},{"p":"AB","d":24.875,"s":1,"v":3e-4},{"p":"AB","d":26,"s":1,"v":2.5e-4},
{"p":"AB","d":18.125,"s":1.1,"v":2.2e-4},{"p":"AB","d":18.875,"s":1.1,"v":7e-4},{"p":"AB","d":21,"s":1.1,"v":2.2e-4},{"p":"AB","d":22.125,"s":1.1,"v":3e-4},{"p":"AB","d":23,"s":1.1,"v":5e-4},{"p":"AB","d":25.25,"s":1.1,"v":2.5e-4},{"p":"AB","d":26.25,"s":1.1,"v":2.2e-4},
{"p":"AB","d":18.25,"s":1.2,"v":2.5e-4},{"p":"AB","d":18.625,"s":1.2,"v":2.5e-4},{"p":"AB","d":19.5,"s":1.2,"v":7e-4},{"p":"AB","d":20.75,"s":1.2,"v":3e-4},{"p":"AB","d":21,"s":1.2,"v":3e-4},{"p":"AB","d":21.25,"s":1.2,"v":3e-4},{"p":"AB","d":22,"s":1.2,"v":4e-4},{"p":"AB","d":22.25,"s":1.2,"v":4e-4},{"p":"AB","d":22.75,"s":1.2,"v":3e-4},{"p":"AB","d":23.25,"s":1.2,"v":3e-4},{"p":"AB","d":24.125,"s":1.2,"v":8e-4},{"p":"AB","d":24.375,"s":1.2,"v":4e-4},{"p":"AB","d":25.25,"s":1.2,"v":3e-4},{"p":"AB","d":26.25,"s":1.2,"v":3e-4},
{"p":"AB","d":18,"s":1.3,"v":4e-4},{"p":"AB","d":18.125,"s":1.3,"v":3e-4},{"p":"AB","d":18.375,"s":1.3,"v":3e-4},{"p":"AB","d":18.875,"s":1.3,"v":5e-4},{"p":"AB","d":22,"s":1.3,"v":3e-4},{"p":"AB","d":22.25,"s":1.3,"v":6e-4},{"p":"AB","d":22.625,"s":1.3,"v":3e-4},{"p":"AB","d":22.875,"s":1.3,"v":4e-4},{"p":"AB","d":23.375,"s":1.3,"v":4e-4},{"p":"AB","d":23.875,"s":1.3,"v":5e-4},{"p":"AB","d":24.125,"s":1.3,"v":8e-4},{"p":"AB","d":25,"s":1.3,"v":3e-4},{"p":"AB","d":25.25,"s":1.3,"v":3e-4},{"p":"AB","d":25.875,"s":1.3,"v":8e-4},{"p":"AB","d":26,"s":1.3,"v":5e-4},
{"p":"AB","d":17.875,"s":1.4,"v":4e-4},{"p":"AB","d":18.125,"s":1.4,"v":4e-4},{"p":"AB","d":18.75,"s":1.4,"v":4e-4},{"p":"AB","d":18.875,"s":1.4,"v":6e-4},{"p":"AB","d":20.5,"s":1.4,"v":3e-4},{"p":"AB","d":22.25,"s":1.4,"v":6e-4},{"p":"AB","d":22.75,"s":1.4,"v":4e-4},{"p":"AB","d":23.25,"s":1.4,"v":4e-4},{"p":"AB","d":24.125,"s":1.4,"v":7e-4},{"p":"AB","d":25.375,"s":1.4,"v":4e-4},{"p":"AB","d":25.875,"s":1.4,"v":5e-4},
{"p":"AB","d":17.5,"s":1.5,"v":3e-4},{"p":"AB","d":18.25,"s":1.5,"v":4e-4},{"p":"AB","d":18.875,"s":1.5,"v":5e-4},{"p":"AB","d":20,"s":1.5,"v":3e-4},{"p":"AB","d":21.75,"s":1.5,"v":4e-4},{"p":"AB","d":22.25,"s":1.5,"v":5e-4},{"p":"AB","d":22.75,"s":1.5,"v":5e-4},{"p":"AB","d":23,"s":1.5,"v":5e-4},{"p":"AB","d":23.375,"s":1.5,"v":4e-4},{"p":"AB","d":24.25,"s":1.5,"v":8e-4},{"p":"AB","d":24.875,"s":1.5,"v":4e-4},{"p":"AB","d":25.375,"s":1.5,"v":5e-4},{"p":"AB","d":26,"s":1.5,"v":5e-4},
{"p":"AB","d":18,"s":1.6,"v":5e-4},{"p":"AB","d":18.25,"s":1.6,"v":5e-4},{"p":"AB","d":18.875,"s":1.6,"v":4e-4},{"p":"AB","d":19.625,"s":1.6,"v":3e-4},{"p":"AB","d":20.125,"s":1.6,"v":3e-4},{"p":"AB","d":21.75,"s":1.6,"v":4e-4},{"p":"AB","d":22.875,"s":1.6,"v":5e-4},{"p":"AB","d":23.125,"s":1.6,"v":5e-4},{"p":"AB","d":24,"s":1.6,"v":6e-4},{"p":"AB","d":24.125,"s":1.6,"v":1e-3},{"p":"AB","d":24.875,"s":1.6,"v":5e-4},{"p":"AB","d":25.875,"s":1.6,"v":6e-4},
{"p":"AB","d":18.5,"s":1.7,"v":4e-4},{"p":"AB","d":19.5,"s":1.7,"v":5e-4},{"p":"AB","d":19.75,"s":1.7,"v":4e-4},{"p":"AB","d":20.375,"s":1.7,"v":4e-4},{"p":"AB","d":22.25,"s":1.7,"v":1.3e-3},{"p":"AB","d":22,"s":1.7,"v":5e-4},{"p":"AB","d":23,"s":1.7,"v":4e-4},{"p":"AB","d":23.75,"s":1.7,"v":4e-4},{"p":"AB","d":24.25,"s":1.7,"v":1.1e-3},{"p":"AB","d":25,"s":1.7,"v":3e-4},{"p":"AB","d":26,"s":1.7,"v":6e-4},
{"p":"AB","d":18.125,"s":1.8,"v":5e-4},{"p":"AB","d":18.5,"s":1.8,"v":7e-4},{"p":"AB","d":18.875,"s":1.8,"v":5e-4},{"p":"AB","d":20.375,"s":1.8,"v":5e-4},{"p":"AB","d":20.875,"s":1.9,"v":8e-4},{"p":"AB","d":22,"s":1.8,"v":7e-4},{"p":"AB","d":22.75,"s":1.8,"v":4e-4},{"p":"AB","d":23.125,"s":1.8,"v":4e-4},{"p":"AB","d":24.25,"s":1.8,"v":1e-3},{"p":"AB","d":24.375,"s":1.9,"v":8e-4},{"p":"AB","d":25,"s":1.8,"v":4e-4},{"p":"AB","d":25.875,"s":1.8,"v":6e-4},
{"p":"AB","d":18.25,"s":2,"v":5e-4},{"p":"AB","d":18.625,"s":2,"v":6e-4},{"p":"AB","d":19.5,"s":2.1,"v":3e-4},{"p":"AB","d":22,"s":2,"v":6e-4},{"p":"AB","d":22.25,"s":2.1,"v":7e-4},{"p":"AB","d":22.75,"s":2,"v":5e-4},{"p":"AB","d":23.25,"s":2,"v":5e-4},{"p":"AB","d":24.125,"s":2,"v":7e-4},{"p":"AB","d":24.25,"s":2.1,"v":8e-4},{"p":"AB","d":25.25,"s":2,"v":4e-4},{"p":"AB","d":26.25,"s":2,"v":7e-4},{"p":"AB","d":26.125,"s":2.2,"v":5e-4},
{"p":"AB","d":17.875,"s":2.2,"v":6e-4},{"p":"AB","d":18.125,"s":2.2,"v":4e-4},{"p":"AB","d":18.75,"s":2.2,"v":5e-4},{"p":"AB","d":20.625,"s":2.2,"v":3e-4},{"p":"AB","d":21.875,"s":2.2,"v":4e-4},{"p":"AB","d":22.125,"s":2.3,"v":6e-4},{"p":"AB","d":22.625,"s":2.3,"v":5e-4},{"p":"AB","d":23.5,"s":2.2,"v":4e-4},{"p":"AB","d":23.75,"s":2.3,"v":5e-4},{"p":"AB","d":24.25,"s":2.3,"v":7e-4},{"p":"AB","d":24.875,"s":2.3,"v":4e-4},{"p":"AB","d":25.125,"s":2.2,"v":3e-4},{"p":"AB","d":26.25,"s":2.3,"v":4e-4},
{"p":"AB","d":17.5,"s":2.4,"v":5e-4},{"p":"AB","d":18,"s":2.4,"v":4e-4},{"p":"AB","d":18.5,"s":2.4,"v":4e-4},{"p":"AB","d":19.75,"s":2.4,"v":3e-4},{"p":"AB","d":20.875,"s":2.4,"v":3e-4},{"p":"AB","d":22.25,"s":2.5,"v":5e-4},{"p":"AB","d":22.625,"s":2.5,"v":7e-4},{"p":"AB","d":23.625,"s":2.4,"v":6e-4},{"p":"AB","d":24.375,"s":2.5,"v":6e-4},{"p":"AB","d":25,"s":2.4,"v":3e-4},{"p":"AB","d":26.375,"s":2.5,"v":4e-4},
{"p":"AB","d":17.75,"s":2.6,"v":6e-4},{"p":"AB","d":18.25,"s":2.6,"v":5e-4},{"p":"AB","d":18.625,"s":2.7,"v":3e-4},{"p":"AB","d":19.5,"s":2.7,"v":3e-4},{"p":"AB","d":21.125,"s":2.6,"v":3e-4},{"p":"AB","d":22.125,"s":2.7,"v":6e-4},{"p":"AB","d":22.625,"s":2.8,"v":4e-4},{"p":"AB","d":23.375,"s":2.7,"v":4e-4},{"p":"AB","d":24.125,"s":2.7,"v":6e-4},{"p":"AB","d":24.875,"s":2.7,"v":3e-4},{"p":"AB","d":26.125,"s":2.7,"v":4e-4},
{"p":"AB","d":17.875,"s":2.9,"v":5e-4},{"p":"AB","d":18.375,"s":2.9,"v":5e-4},{"p":"AB","d":18.75,"s":3,"v":3e-4},{"p":"AB","d":20.875,"s":2.9,"v":2.5e-4},{"p":"AB","d":22.25,"s":3,"v":5e-4},{"p":"AB","d":23,"s":3,"v":3e-4},{"p":"AB","d":24.25,"s":3,"v":5e-4},{"p":"AB","d":25,"s":3,"v":3e-4},{"p":"AB","d":25.75,"s":3,"v":3e-4},
{"p":"AB","d":17.875,"s":3.4,"v":2.5e-4},{"p":"AB","d":18.375,"s":3.5,"v":3e-4},{"p":"AB","d":19.5,"s":3.4,"v":2.5e-4},{"p":"AB","d":22.125,"s":3.4,"v":2.5e-4},{"p":"AB","d":22.75,"s":3.4,"v":2.5e-4},{"p":"AB","d":23.5,"s":3.3,"v":2.5e-4},{"p":"AB","d":24.25,"s":3.5,"v":3e-4},{"p":"AB","d":26,"s":3.5,"v":2.5e-4},{"p":"AB","d":22,"s":3.9,"v":2.5e-4},{"p":"AB","d":24.125,"s":3.9,"v":3e-4},{"p":"AB","d":26.125,"s":3.9,"v":3e-4},{"p":"AB","d":24.25,"s":4.2,"v":3e-4},{"p":"AB","d":26,"s":4.2,"v":2.5e-4},{"p":"AB","d":20.625,"s":4.3,"v":2e-4},{"p":"AB","d":22.875,"s":4.6,"v":2e-4},{"p":"AB","d":23.5,"s":4.5,"v":2e-4},{"p":"AB","d":24.125,"s":4.8,"v":2e-4},{"p":"AB","d":22.5,"s":4.9,"v":2e-4},
{"p":"C","d":18.625,"s":0.4,"v":3.5e-4},{"p":"C","d":19,"s":0.4,"v":2.2e-4},{"p":"C","d":19.5,"s":0.4,"v":3e-4},{"p":"C","d":20.25,"s":0.4,"v":3.5e-4},{"p":"C","d":21.125,"e":21.375,"s":0.4,"t":0.5,"v":2.5e-4},{"p":"C","d":21.75,"e":22,"s":0.4,"t":0.5,"v":2.5e-4},{"p":"C","d":22.5,"s":0.4,"v":8e-4},{"p":"C","d":22.625,"e":23.125,"s":0.4,"t":0.5,"v":2.2e-4},{"p":"C","d":23.125,"s":0.4,"v":5e-4},{"p":"C","d":23.5,"s":0.4,"v":2.5e-4},{"p":"C","d":23.875,"s":0.4,"v":1e-3},{"p":"C","d":24,"e":24.25,"s":0.4,"t":0.5,"v":5e-4},{"p":"C","d":24.375,"s":0.4,"v":4e-4},{"p":"C","d":24.75,"s":0.4,"v":4e-4},{"p":"C","d":25,"s":0.4,"v":3e-4},{"p":"C","d":25.125,"s":0.4,"v":6e-4},{"p":"C","d":25.75,"s":0.4,"v":6e-4},{"p":"C","d":26,"s":0.4,"v":3e-4},{"p":"C","d":26.25,"s":0.4,"v":2.5e-4},{"p":"C","d":17.875,"s":0.5,"v":2e-4},{"p":"C","d":18.125,"s":0.5,"v":2e-4},{"p":"C","d":19,"s":0.5,"v":2.5e-4},{"p":"C","d":21.125,"s":0.5,"v":2e-4},{"p":"C","d":22.5,"s":0.5,"v":2.5e-4},{"p":"C","d":23.125,"s":0.5,"v":2.5e-4},{"p":"C","d":23.5,"s":0.5,"v":2e-4},{"p":"C","d":24,"s":0.5,"v":2e-4},{"p":"C","d":24.25,"s":0.5,"v":2e-4},{"p":"C","d":24.75,"s":0.5,"v":2e-4},{"p":"C","d":25,"s":0.5,"v":2e-4},{"p":"C","d":25.125,"s":0.5,"v":3e-4},{"p":"C","d":26.375,"s":0.5,"v":2e-4},{"p":"C","d":21.75,"s":0.7,"v":2e-4},{"p":"C","d":26.25,"s":0.8,"v":2e-4},{"p":"C","d":25.125,"s":0.9,"v":2e-4},{"p":"C","d":24.375,"s":1,"v":2e-4},{"p":"C","d":25.75,"s":1,"v":2e-4},{"p":"C","d":26,"s":1.4,"v":2e-4},{"p":"C","d":23.75,"s":4,"v":2e-4},{"p":"C","d":26,"s":4.8,"v":2e-4},
{"p":"BC","d":17.875,"s":0.4,"v":2.2e-4},{"p":"BC","d":18.125,"s":0.4,"v":2.5e-4},{"p":"BC","d":18.25,"s":0.4,"v":3e-4},{"p":"BC","d":18.625,"s":0.4,"v":2.2e-4},{"p":"BC","d":18.875,"s":0.4,"v":2.5e-4},{"p":"BC","d":19.5,"s":0.4,"v":4e-4},{"p":"BC","d":20,"s":0.4,"v":2.2e-4},{"p":"BC","d":20.25,"s":0.4,"v":3.5e-4},{"p":"BC","d":20.75,"s":0.4,"v":2.5e-4},{"p":"BC","d":21,"s":0.4,"v":2.2e-4},{"p":"BC","d":21.25,"s":0.4,"v":2.5e-4},{"p":"BC","d":21.75,"e":22.25,"s":0.4,"t":0.5,"v":3e-4},{"p":"BC","d":22.75,"s":0.4,"v":2.5e-4},{"p":"BC","d":23,"e":23.25,"s":0.4,"t":0.5,"v":3e-4},{"p":"BC","d":23.75,"s":0.4,"v":2.5e-4},{"p":"BC","d":24,"e":24.375,"s":0.4,"t":0.5,"v":5e-4},{"p":"BC","d":24.5,"s":0.4,"v":3e-4},{"p":"BC","d":25.125,"e":25.5,"s":0.4,"t":0.5,"v":4e-4},{"p":"BC","d":26,"s":0.4,"v":7e-4},{"p":"BC","d":22.5,"s":0.5,"v":2e-4},{"p":"BC","d":23,"s":0.5,"v":3e-4},{"p":"BC","d":23.25,"s":0.5,"v":2.2e-4},{"p":"BC","d":23.5,"s":0.5,"v":2.2e-4},{"p":"BC","d":24.625,"e":24.875,"s":0.5,"t":0.6,"v":3.5e-4},{"p":"BC","d":25,"s":0.5,"v":2.2e-4},{"p":"BC","d":25.25,"e":25.5,"s":0.5,"t":0.6,"v":3e-4},{"p":"BC","d":25.875,"s":0.5,"v":2e-4},{"p":"BC","d":26,"e":26.25,"s":0.5,"t":0.6,"v":3e-4},
{"p":"BC","d":24.875,"s":0.8,"v":2e-4},{"p":"BC","d":24.875,"s":0.7,"v":2e-4},{"p":"BC","d":23.25,"s":0.9,"v":2.2e-4},{"p":"BC","d":23.125,"s":1,"v":2.5e-4},{"p":"BC","d":23.75,"s":1,"v":2.2e-4},{"p":"BC","d":25,"s":1,"v":3.5e-4},{"p":"BC","d":23.25,"s":1.1,"v":3e-4},{"p":"BC","d":24.125,"s":1.1,"v":2.2e-4},{"p":"BC","d":18.25,"s":1.2,"v":2e-4},{"p":"BC","d":19.5,"s":1.2,"v":2e-4},{"p":"BC","d":22,"s":1.2,"v":2e-4},{"p":"BC","d":22.875,"e":23.25,"s":1.2,"t":1.3,"v":3e-4},{"p":"BC","d":24.25,"s":1.2,"v":2.2e-4},{"p":"BC","d":25.125,"s":1.2,"v":3e-4},{"p":"BC","d":25.875,"s":1.2,"v":2.2e-4},{"p":"BC","d":18.125,"s":1.3,"v":2e-4},{"p":"BC","d":20.875,"s":1.3,"v":2e-4},{"p":"BC","d":21.75,"s":1.3,"v":2.2e-4},{"p":"BC","d":22.875,"e":23.25,"s":1.3,"t":1.4,"v":3e-4},{"p":"BC","d":24.25,"s":1.3,"v":2.5e-4},{"p":"BC","d":25.75,"s":1.3,"v":2.2e-4},
{"p":"BC","d":22.125,"s":1.4,"v":2.2e-4},{"p":"BC","d":22.875,"s":1.4,"v":3e-4},{"p":"BC","d":23.125,"s":1.4,"v":9e-4},{"p":"BC","d":23.375,"s":1.4,"v":3e-4},{"p":"BC","d":23.75,"s":1.4,"v":2.5e-4},{"p":"BC","d":24.125,"s":1.4,"v":3e-4},{"p":"BC","d":25,"s":1.4,"v":2.5e-4},{"p":"BC","d":25.875,"e":26.25,"s":1.4,"t":1.5,"v":3e-4},{"p":"BC","d":17.875,"s":1.5,"v":2.2e-4},{"p":"BC","d":22.875,"e":23.125,"s":1.5,"t":1.6,"v":3e-4},{"p":"BC","d":23.125,"s":1.5,"v":6e-4},{"p":"BC","d":23.875,"s":1.5,"v":3e-4},{"p":"BC","d":24.25,"e":24.5,"s":1.5,"t":1.6,"v":3.5e-4},{"p":"BC","d":25,"e":25.5,"s":1.5,"t":1.6,"v":6e-4},{"p":"BC","d":25.5,"s":1.5,"v":1e-3},{"p":"BC","d":25.875,"s":1.5,"v":3e-4},{"p":"BC","d":26.125,"s":1.5,"v":3e-4},
{"p":"BC","d":18,"s":1.6,"v":2e-4},{"p":"BC","d":18.375,"s":1.6,"v":2e-4},{"p":"BC","d":20.25,"s":1.6,"v":2e-4},{"p":"BC","d":21.25,"s":1.6,"v":2.2e-4},{"p":"BC","d":21.75,"s":1.6,"v":2.2e-4},{"p":"BC","d":22,"s":1.6,"v":2.5e-4},{"p":"BC","d":22.875,"e":23.75,"s":1.6,"t":1.7,"v":3.5e-4},{"p":"BC","d":24.25,"e":24.5,"s":1.6,"t":1.7,"v":3.5e-4},{"p":"BC","d":25.875,"s":1.6,"v":3e-4},{"p":"BC","d":26.25,"s":1.6,"v":2.5e-4},
{"p":"BC","d":22.875,"e":23,"s":1.7,"t":1.8,"v":5e-4},{"p":"BC","d":23.125,"s":1.7,"v":6e-4},{"p":"BC","d":23.375,"s":1.7,"v":7e-4},{"p":"BC","d":23.5,"s":1.7,"v":3e-4},{"p":"BC","d":20.125,"s":1.7,"v":2e-4},{"p":"BC","d":20.75,"s":1.7,"v":2.2e-4},{"p":"BC","d":24,"s":1.7,"v":2.5e-4},{"p":"BC","d":24.375,"s":1.7,"v":3e-4},{"p":"BC","d":24.5,"s":1.7,"v":3e-4},{"p":"BC","d":25,"s":1.7,"v":2.5e-4},{"p":"BC","d":25.75,"s":1.7,"v":2.5e-4},{"p":"BC","d":26,"e":26.25,"s":1.7,"t":1.8,"v":3e-4},
{"p":"BC","d":19.625,"s":1.8,"v":2.2e-4},{"p":"BC","d":21.125,"s":1.8,"v":2.2e-4},{"p":"BC","d":22.125,"s":1.8,"v":2.2e-4},{"p":"BC","d":23.125,"s":1.8,"v":6e-4},{"p":"BC","d":23.25,"s":1.8,"v":5e-4},{"p":"BC","d":23.75,"s":1.8,"v":2.2e-4},{"p":"BC","d":24,"s":1.8,"v":2.2e-4},{"p":"BC","d":25,"s":1.8,"v":3.5e-4},{"p":"BC","d":25.375,"s":1.8,"v":5e-4},{"p":"BC","d":26.25,"s":1.8,"v":2.5e-4},{"p":"BC","d":17.875,"s":1.9,"v":2.2e-4},{"p":"BC","d":22.25,"s":1.9,"v":2.2e-4},{"p":"BC","d":23.625,"s":1.9,"v":2.2e-4},{"p":"BC","d":24.25,"s":1.9,"v":2.2e-4},{"p":"BC","d":25,"s":1.9,"v":2.5e-4},{"p":"BC","d":25.875,"s":1.9,"v":2.2e-4},
{"p":"BC","d":22.75,"s":2,"v":2.2e-4},{"p":"BC","d":23.125,"s":2,"v":2.5e-4},{"p":"BC","d":23.75,"s":2,"v":2.2e-4},{"p":"BC","d":24.25,"s":2,"v":2.2e-4},{"p":"BC","d":26.25,"s":2,"v":2.2e-4},{"p":"BC","d":19,"s":2.1,"v":2.2e-4},{"p":"BC","d":22.875,"s":2.1,"v":2.2e-4},{"p":"BC","d":23.25,"s":2.1,"v":3e-4},{"p":"BC","d":24.375,"s":2.1,"v":2.5e-4},{"p":"BC","d":25.125,"s":2.1,"v":2.2e-4},{"p":"BC","d":19.125,"s":2.2,"v":2.2e-4},{"p":"BC","d":21.75,"s":2.2,"v":2.5e-4},{"p":"BC","d":19.5,"s":2.3,"v":2.2e-4},{"p":"BC","d":22.25,"s":2.3,"v":2.2e-4},{"p":"BC","d":22.75,"s":2.3,"v":2.2e-4},{"p":"BC","d":24.125,"s":2.3,"v":2.2e-4},{"p":"BC","d":25.875,"s":2.3,"v":2.2e-4},{"p":"BC","d":23.5,"s":2.4,"v":2.2e-4},{"p":"BC","d":22,"s":2.5,"v":2.2e-4},{"p":"BC","d":24.5,"s":2.5,"v":2.2e-4},{"p":"BC","d":22.125,"s":2.7,"v":2.5e-4},{"p":"BC","d":24.125,"s":2.8,"v":2.5e-4},{"p":"BC","d":24.125,"s":3.2,"v":2.5e-4},{"p":"BC","d":24.125,"s":3.4,"v":2.2e-4},{"p":"BC","d":24.125,"s":3.7,"v":2.5e-4},{"p":"BC","d":24.25,"s":3.8,"v":2.5e-4},{"p":"BC","d":23.625,"s":4,"v":2e-4},{"p":"BC","d":25,"s":4.1,"v":2e-4},{"p":"BC","d":25.5,"s":4.4,"v":2e-4},{"p":"BC","d":26.25,"s":4.2,"v":2.2e-4},{"p":"BC","d":26.125,"s":4.5,"v":2e-4},{"p":"BC","d":24,"s":4.9,"v":2e-4},
{"p":"ABC","d":18,"s":1.7,"v":2.5e-4},{"p":"ABC","d":19.125,"s":1.7,"v":2.5e-4},{"p":"ABC","d":19.5,"s":1.5,"v":2.5e-4},{"p":"ABC","d":21,"s":1.5,"v":2.5e-4},{"p":"ABC","d":22.375,"s":1.6,"v":2.2e-4},{"p":"ABC","d":22.75,"s":1.6,"v":2.2e-4},{"p":"ABC","d":23.125,"s":1.6,"v":3e-4},{"p":"ABC","d":23.25,"s":1.6,"v":2.5e-4},{"p":"ABC","d":23.5,"s":1.6,"v":2.5e-4},{"p":"ABC","d":23.75,"s":1.6,"v":2.2e-4},{"p":"ABC","d":24,"s":1.6,"v":3e-4},{"p":"ABC","d":24.125,"s":1.6,"v":3e-4},{"p":"ABC","d":25.125,"s":1.7,"v":3e-4},{"p":"ABC","d":25.25,"s":1.7,"v":3e-4},{"p":"ABC","d":26.375,"s":1.7,"v":2.2e-4},{"p":"ABC","d":26.375,"s":1.4,"v":2.2e-4},{"p":"ABC","d":23.25,"s":1.9,"v":2.5e-4},{"p":"ABC","d":23.5,"s":1.9,"v":2.5e-4},{"p":"ABC","d":24.125,"s":1.8,"v":2.5e-4},{"p":"ABC","d":24.125,"s":1.9,"v":3e-4},{"p":"ABC","d":24.25,"s":1.9,"v":3e-4},{"p":"ABC","d":25.125,"s":1.9,"v":2.5e-4},{"p":"ABC","d":25.25,"s":2,"v":2.2e-4},{"p":"ABC","d":25.5,"s":1.9,"v":2.2e-4},{"p":"ABC","d":25.75,"s":1.9,"v":2.2e-4},{"p":"ABC","d":22.375,"s":1.9,"v":2.2e-4},{"p":"ABC","d":18.5,"s":2.2,"v":2.2e-4},{"p":"ABC","d":19.5,"s":2.3,"v":2.2e-4},{"p":"ABC","d":22,"s":2.2,"v":2.2e-4},{"p":"ABC","d":22.375,"s":2.2,"v":2.2e-4},{"p":"ABC","d":23,"s":2.1,"v":2.2e-4},{"p":"ABC","d":24,"s":2.1,"v":2.5e-4},{"p":"ABC","d":24.25,"s":2.3,"v":3e-4},{"p":"ABC","d":26.125,"s":2.2,"v":2.2e-4},{"p":"ABC","d":26.25,"s":2.3,"v":2.5e-4},{"p":"ABC","d":18.25,"s":2.4,"v":2.2e-4},{"p":"ABC","d":20.25,"s":2.4,"v":2.2e-4},{"p":"ABC","d":22.125,"s":2.4,"v":2.2e-4},{"p":"ABC","d":22.5,"s":2.4,"v":2.2e-4},{"p":"ABC","d":23.5,"s":2.3,"v":2.2e-4},{"p":"ABC","d":24.125,"s":2.4,"v":3e-4},{"p":"ABC","d":25.25,"s":2.4,"v":2.2e-4},{"p":"ABC","d":25.625,"s":2.4,"v":2.2e-4},{"p":"ABC","d":26.375,"s":2.4,"v":2.5e-4},{"p":"ABC","d":17.5,"s":2.6,"v":2.5e-4},{"p":"ABC","d":18,"s":2.6,"v":2.2e-4},{"p":"ABC","d":18.375,"s":2.7,"v":2.2e-4},{"p":"ABC","d":22.25,"s":2.6,"v":2.2e-4},{"p":"ABC","d":22.75,"s":2.5,"v":2.2e-4},{"p":"ABC","d":24.25,"s":2.6,"v":3e-4},{"p":"ABC","d":25,"s":2.5,"v":2.2e-4},{"p":"ABC","d":25.25,"s":2.6,"v":2.2e-4},{"p":"ABC","d":26.25,"s":2.6,"v":2.2e-4},{"p":"ABC","d":18.125,"s":2.9,"v":2.2e-4},{"p":"ABC","d":18.5,"s":2.9,"v":2.2e-4},{"p":"ABC","d":19,"s":2.8,"v":2.2e-4},{"p":"ABC","d":22.375,"s":2.9,"v":2.2e-4},{"p":"ABC","d":23.25,"s":2.8,"v":2.2e-4},{"p":"ABC","d":24.125,"s":2.9,"v":3e-4},{"p":"ABC","d":24.25,"s":3,"v":3.5e-4},{"p":"ABC","d":22,"s":3.3,"v":2.2e-4},{"p":"ABC","d":23.25,"s":3.2,"v":2.2e-4},{"p":"ABC","d":23.5,"s":3.3,"v":2.5e-4},{"p":"ABC","d":24,"s":3.3,"v":2.5e-4},{"p":"ABC","d":24.25,"s":3.4,"v":2.5e-4},{"p":"ABC","d":25.125,"s":3.3,"v":2.2e-4},{"p":"ABC","d":25.5,"s":3.5,"v":2.2e-4},{"p":"ABC","d":17.625,"s":3.7,"v":2.2e-4},{"p":"ABC","d":18.625,"s":3.7,"v":2.2e-4},{"p":"ABC","d":21,"s":3.4,"v":2.2e-4},{"p":"ABC","d":24,"s":3.6,"v":2.5e-4},{"p":"ABC","d":24.25,"s":3.7,"v":2.5e-4},{"p":"ABC","d":25.25,"s":3.7,"v":2.5e-4},{"p":"ABC","d":25.875,"s":3.6,"v":2.2e-4},{"p":"ABC","d":22.125,"s":3.9,"v":2.2e-4},{"p":"ABC","d":24.125,"s":4,"v":2.2e-4},{"p":"ABC","d":26.375,"s":4,"v":2.2e-4},{"p":"ABC","d":25.75,"s":4.2,"v":2.2e-4},{"p":"ABC","d":20.25,"s":4.3,"v":2.2e-4},{"p":"ABC","d":24.125,"s":4.5,"v":2.5e-4},{"p":"ABC","d":22.625,"s":4.5,"v":2e-4},{"p":"ABC","d":26.25,"s":4.5,"v":2e-4},{"p":"ABC","d":23.875,"s":4.8,"v":2.2e-4},{"p":"ABC","d":24.25,"s":4.8,"v":2.5e-4},{"p":"ABC","d":24.125,"s":4.9,"v":2.5e-4},{"p":"ABC","d":25.125,"s":4.7,"v":2.2e-4},{"p":"ABC","d":25.375,"s":4.7,"v":2.2e-4},{"p":"ABC","d":25.75,"s":4.8,"v":2.2e-4},{"p":"ABC","d":19.75,"s":4.7,"v":2.2e-4},{"p":"ABC","d":18.5,"s":4.8,"v":2e-4},
{"p":"Total","d":17.5,"e":17.75,"s":0.4,"t":0.6,"v":4e-4},{"p":"Total","d":17.5,"e":17.625,"s":0.7,"t":2.8,"v":3e-4},
{"p":"Total","d":17.75,"e":18.75,"s":0.4,"t":0.5,"v":1.5e-3},{"p":"Total","d":18.875,"e":19.25,"s":0.4,"t":0.5,"v":1.7e-3},{"p":"Total","d":19.5,"e":20.5,"s":0.4,"t":0.5,"v":1.8e-3},{"p":"Total","d":20.625,"e":21.5,"s":0.4,"t":0.5,"v":1.8e-3},{"p":"Total","d":21.75,"e":22.375,"s":0.4,"t":0.5,"v":3e-3},{"p":"Total","d":22.5,"e":23,"s":0.4,"t":0.5,"v":3.2e-3},{"p":"Total","d":23,"e":23.5,"s":0.4,"t":0.5,"v":4e-3},{"p":"Total","d":23.5,"e":24,"s":0.4,"t":0.5,"v":2.5e-3},{"p":"Total","d":24,"e":24.5,"s":0.4,"t":0.5,"v":3.5e-3},{"p":"Total","d":24.625,"e":24.75,"s":0.4,"t":0.5,"v":5e-4},{"p":"Total","d":24.75,"e":25.5,"s":0.4,"t":0.5,"v":3.5e-3},{"p":"Total","d":25.625,"e":26.5,"s":0.4,"t":0.5,"v":2.2e-3},
{"p":"Total","d":17.75,"e":18.75,"s":0.5,"t":0.6,"v":1.7e-3},{"p":"Total","d":18.875,"e":19.25,"s":0.5,"t":0.6,"v":3e-3},{"p":"Total","d":19.5,"e":20,"s":0.5,"t":0.6,"v":2e-3},{"p":"Total","d":20,"e":20.5,"s":0.5,"t":0.6,"v":2.6e-3},{"p":"Total","d":20.625,"e":21.5,"s":0.5,"t":0.6,"v":1.8e-3},{"p":"Total","d":21.75,"e":22.375,"s":0.5,"t":0.6,"v":3.2e-3},{"p":"Total","d":22.5,"e":23,"s":0.5,"t":0.6,"v":3.5e-3},{"p":"Total","d":23,"e":23.5,"s":0.5,"t":0.6,"v":5e-3},{"p":"Total","d":23.5,"e":24.5,"s":0.5,"t":0.6,"v":3e-3},{"p":"Total","d":24.75,"e":25.5,"s":0.5,"t":0.6,"v":3.5e-3},{"p":"Total","d":25.625,"e":26.5,"s":0.5,"t":0.6,"v":3e-3},
{"p":"Total","d":17.75,"e":18.75,"s":0.6,"t":0.7,"v":1.2e-3},{"p":"Total","d":18.875,"e":19.25,"s":0.6,"t":0.7,"v":1.5e-3},{"p":"Total","d":19.5,"e":20.5,"s":0.6,"t":0.7,"v":1.2e-3},{"p":"Total","d":20.625,"e":21.5,"s":0.6,"t":0.7,"v":1.3e-3},{"p":"Total","d":21.75,"e":22.375,"s":0.6,"t":0.7,"v":2e-3},{"p":"Total","d":22.5,"e":23,"s":0.6,"t":0.7,"v":2.5e-3},{"p":"Total","d":23,"e":23.5,"s":0.6,"t":0.7,"v":3e-3},{"p":"Total","d":23.5,"e":24.5,"s":0.6,"t":0.7,"v":2.2e-3},{"p":"Total","d":24.75,"e":25.5,"s":0.6,"t":0.7,"v":2.5e-3},{"p":"Total","d":25.625,"e":26.5,"s":0.6,"t":0.7,"v":2.2e-3},
{"p":"Total","d":17.75,"e":18.75,"s":0.7,"t":0.8,"v":1e-3},{"p":"Total","d":18.875,"e":19.25,"s":0.7,"t":0.8,"v":2e-3},{"p":"Total","d":19.5,"e":20.5,"s":0.7,"t":0.8,"v":1e-3},{"p":"Total","d":20.625,"e":21.5,"s":0.7,"t":0.8,"v":1.4e-3},{"p":"Total","d":21.75,"e":22.375,"s":0.7,"t":0.8,"v":2e-3},{"p":"Total","d":22.5,"e":22.875,"s":0.7,"t":0.8,"v":2.6e-3},{"p":"Total","d":22.875,"e":23.375,"s":0.7,"t":0.8,"v":4e-3},{"p":"Total","d":23.375,"e":24.5,"s":0.7,"t":0.8,"v":2.6e-3},{"p":"Total","d":24.75,"e":25.5,"s":0.7,"t":0.8,"v":3e-3},{"p":"Total","d":25.625,"e":26.5,"s":0.7,"t":0.8,"v":2e-3},
{"p":"Total","d":17.75,"e":18.75,"s":0.8,"t":0.9,"v":1.2e-3},{"p":"Total","d":18.875,"e":19.25,"s":0.8,"t":0.9,"v":2.4e-3},{"p":"Total","d":19.5,"e":20.5,"s":0.8,"t":0.9,"v":1.3e-3},{"p":"Total","d":20.625,"e":21.5,"s":0.8,"t":0.9,"v":1.5e-3},{"p":"Total","d":21.75,"e":22.375,"s":0.8,"t":0.9,"v":2.4e-3},{"p":"Total","d":22.5,"e":23.375,"s":0.8,"t":0.9,"v":4.5e-3},{"p":"Total","d":23.375,"e":24.5,"s":0.8,"t":0.9,"v":3e-3},{"p":"Total","d":24.75,"e":25.5,"s":0.8,"t":0.9,"v":3.5e-3},{"p":"Total","d":25.625,"e":26.5,"s":0.8,"t":0.9,"v":2.2e-3},
{"p":"Total","d":17.75,"e":18.75,"s":0.9,"t":1,"v":1.8e-3},{"p":"Total","d":18.875,"e":19.25,"s":0.9,"t":1,"v":3.3e-3},{"p":"Total","d":19.5,"e":20.5,"s":0.9,"t":1,"v":1.4e-3},{"p":"Total","d":20.625,"e":21.5,"s":0.9,"t":1,"v":1.6e-3},{"p":"Total","d":21.75,"e":22.375,"s":0.9,"t":1,"v":3e-3},{"p":"Total","d":22.5,"e":24.5,"s":0.9,"t":1,"v":6e-3},{"p":"Total","d":23,"e":23.25,"s":0.9,"t":1,"v":8e-3},{"p":"Total","d":24.75,"e":25.5,"s":0.9,"t":1,"v":5.6e-3},{"p":"Total","d":25.625,"e":26.5,"s":0.9,"t":1,"v":4.5e-3},
{"p":"Total","d":17.75,"e":18.75,"s":1,"t":1.1,"v":1.5e-3},{"p":"Total","d":18.875,"e":19.25,"s":1,"t":1.1,"v":2.4e-3},{"p":"Total","d":19.5,"e":20.5,"s":1,"t":1.1,"v":1.2e-3},{"p":"Total","d":20.625,"e":21.5,"s":1,"t":1.1,"v":1.3e-3},{"p":"Total","d":21.75,"e":22.375,"s":1,"t":1.1,"v":2.2e-3},{"p":"Total","d":22.5,"e":24.5,"s":1,"t":1.1,"v":5e-3},{"p":"Total","d":23,"e":23.375,"s":1,"t":1.1,"v":7.5e-3},{"p":"Total","d":24.75,"e":25.5,"s":1,"t":1.1,"v":4.5e-3},{"p":"Total","d":25.625,"e":26.5,"s":1,"t":1.1,"v":4e-3},
{"p":"Total","d":17.75,"e":18.75,"s":1.1,"t":1.2,"v":1.4e-3},{"p":"Total","d":18.875,"e":19.25,"s":1.1,"t":1.2,"v":2.8e-3},{"p":"Total","d":19.5,"e":20.5,"s":1.1,"t":1.2,"v":1e-3},{"p":"Total","d":20.625,"e":21.5,"s":1.1,"t":1.2,"v":1.1e-3},{"p":"Total","d":21.75,"e":22.375,"s":1.1,"t":1.2,"v":2.2e-3},{"p":"Total","d":22.5,"e":24.5,"s":1.1,"t":1.2,"v":4.5e-3},{"p":"Total","d":24.75,"e":25.5,"s":1.1,"t":1.2,"v":5e-3},{"p":"Total","d":25.625,"e":26.5,"s":1.1,"t":1.2,"v":3.2e-3},
{"p":"Total","d":17.75,"e":18.75,"s":1.2,"t":1.3,"v":1.2e-3},{"p":"Total","d":18.875,"e":19.25,"s":1.2,"t":1.3,"v":1.7e-3},{"p":"Total","d":19.5,"e":20.5,"s":1.2,"t":1.3,"v":1e-3},{"p":"Total","d":20.625,"e":21.5,"s":1.2,"t":1.3,"v":8e-4},{"p":"Total","d":21.75,"e":22.375,"s":1.2,"t":1.3,"v":1.8e-3},{"p":"Total","d":22.5,"e":24.5,"s":1.2,"t":1.3,"v":3.2e-3},{"p":"Total","d":24.75,"e":25.5,"s":1.2,"t":1.3,"v":3.5e-3},{"p":"Total","d":25.625,"e":26.5,"s":1.2,"t":1.3,"v":2e-3},
{"p":"Total","d":17.75,"e":18.75,"s":1.3,"t":1.4,"v":1.1e-3},{"p":"Total","d":18.875,"e":19.25,"s":1.3,"t":1.4,"v":1.3e-3},{"p":"Total","d":19.5,"e":20.5,"s":1.3,"t":1.4,"v":7e-4},{"p":"Total","d":20.625,"e":21.5,"s":1.3,"t":1.4,"v":7e-4},{"p":"Total","d":21.75,"e":22.375,"s":1.3,"t":1.4,"v":1.3e-3},{"p":"Total","d":22.5,"e":24.5,"s":1.3,"t":1.4,"v":2.8e-3},{"p":"Total","d":24.75,"e":25.5,"s":1.3,"t":1.4,"v":3e-3},{"p":"Total","d":25.625,"e":26.5,"s":1.3,"t":1.4,"v":2.2e-3},
{"p":"Total","d":17.75,"e":18.75,"s":1.4,"t":1.6,"v":1e-3},{"p":"Total","d":18.875,"e":19.25,"s":1.4,"t":1.6,"v":1e-3},{"p":"Total","d":19.5,"e":20.5,"s":1.4,"t":1.6,"v":6e-4},{"p":"Total","d":20.625,"e":21.5,"s":1.4,"t":1.6,"v":6e-4},{"p":"Total","d":21.75,"e":22.375,"s":1.4,"t":1.6,"v":1.1e-3},{"p":"Total","d":22.5,"e":24.5,"s":1.4,"t":1.6,"v":2e-3},{"p":"Total","d":24.75,"e":25.5,"s":1.4,"t":1.6,"v":1.7e-3},{"p":"Total","d":25.625,"e":26.5,"s":1.4,"t":1.6,"v":1.6e-3},
{"p":"Total","d":17.75,"e":18.75,"s":1.6,"t":2,"v":8e-4},{"p":"Total","d":18.875,"e":19.125,"s":1.6,"t":2,"v":7e-4},{"p":"Total","d":19.5,"e":20.5,"s":1.6,"t":1.8,"v":6e-4},{"p":"Total","d":19.5,"e":20.5,"s":1.8,"t":2.5,"v":3e-4},{"p":"Total","d":20.625,"e":21.5,"s":1.6,"t":2.5,"v":4e-4},{"p":"Total","d":21.75,"e":22.375,"s":1.6,"t":2,"v":1e-3},{"p":"Total","d":22.5,"e":24.125,"s":1.6,"t":1.9,"v":1e-3},{"p":"Total","d":24.125,"e":24.5,"s":1.6,"t":2,"v":3e-3},{"p":"Total","d":24.75,"e":25.5,"s":1.6,"t":2,"v":1e-3},{"p":"Total","d":25.625,"e":26.5,"s":1.6,"t":2,"v":1.1e-3},
{"p":"Total","d":17.75,"e":18.75,"s":2,"t":3,"v":5e-4},{"p":"Total","d":18.875,"e":19.125,"s":2,"t":3,"v":4e-4},{"p":"Total","d":21.75,"e":22.375,"s":2,"t":3,"v":6e-4},{"p":"Total","d":22.5,"e":24.125,"s":1.9,"t":2.4,"v":5e-4},{"p":"Total","d":22.5,"e":24,"s":2.4,"t":3,"v":3e-4},{"p":"Total","d":24.125,"e":24.375,"s":2,"t":3,"v":2.2e-3},{"p":"Total","d":24,"e":24.125,"s":2.4,"t":3,"v":1e-3},{"p":"Total","d":24.75,"e":25.5,"s":2,"t":3,"v":7e-4},{"p":"Total","d":25.625,"e":26.5,"s":2,"t":3,"v":8e-4},
{"p":"Total","d":17.75,"e":18.75,"s":3,"t":5,"v":2.6e-4},{"p":"Total","d":18.875,"e":19.125,"s":3,"t":4,"v":2.6e-4},{"p":"Total","d":19.5,"e":21.5,"s":2.5,"t":5,"v":2e-4},{"p":"Total","d":21.75,"e":22.375,"s":3,"t":5,"v":3.5e-4},{"p":"Total","d":22.5,"e":24,"s":3,"t":5,"v":2.2e-4},{"p":"Total","d":24,"e":24.375,"s":3,"t":4.4,"v":1.3e-3},{"p":"Total","d":24,"e":24.375,"s":4.4,"t":5,"v":5e-4},{"p":"Total","d":24.75,"e":25.5,"s":3,"t":5,"v":4e-4},{"p":"Total","d":25.625,"e":26.5,"s":3,"t":5,"v":5e-4},
{"p":"Total","d":18,"s":3,"v":5e-4},{"p":"Total","d":18.125,"s":3.5,"v":4e-4},{"p":"Total","d":18.375,"s":3.2,"v":5e-4},{"p":"Total","d":18.5,"s":3.7,"v":4e-4},{"p":"Total","d":18,"s":2.6,"v":2e-4},{"p":"Total","d":18.25,"s":2.2,"v":2e-4},{"p":"Total","d":18.5,"s":2.5,"v":7e-4},{"p":"Total","d":18.625,"s":2.1,"v":1e-3},{"p":"Total","d":19,"s":2.3,"v":1.1e-4},{"p":"Total","d":19,"s":3.3,"v":4e-4},{"p":"Total","d":19.75,"s":2.7,"v":4e-4},{"p":"Total","d":19.75,"s":3.3,"v":4e-4},{"p":"Total","d":20,"s":2.6,"v":4e-4},{"p":"Total","d":20.125,"s":3,"v":3e-4},{"p":"Total","d":20.25,"s":2.2,"v":5e-4},{"p":"Total","d":20.375,"s":2.8,"v":4e-4},{"p":"Total","d":20.75,"s":3.6,"v":4e-4},{"p":"Total","d":20.875,"s":3,"v":5e-4},{"p":"Total","d":21,"s":2.6,"v":5e-4},{"p":"Total","d":21,"s":4,"v":4e-4},{"p":"Total","d":21.125,"s":3.3,"v":4e-4},{"p":"Total","d":21.25,"s":2.2,"v":1.1e-4},{"p":"Total","d":21.25,"s":4.5,"v":4e-4},{"p":"Total","d":20.875,"s":1.9,"v":1.1e-4},{"p":"Total","d":21,"s":1.7,"v":1.1e-4},{"p":"Total","d":19.75,"s":2.2,"v":1.1e-4},{"p":"Total","d":20.25,"s":4.4,"v":4e-4},{"p":"Total","d":20.5,"s":4.8,"v":4e-4},
{"p":"Total","d":22,"s":2.5,"v":8e-4},{"p":"Total","d":22.125,"s":3.2,"v":6e-4},{"p":"Total","d":22,"s":3.8,"v":6e-4},{"p":"Total","d":22.25,"s":4.2,"v":5e-4},{"p":"Total","d":22.625,"s":3.3,"v":4e-4},{"p":"Total","d":22.75,"s":2.7,"v":5e-4},{"p":"Total","d":22.875,"s":3.8,"v":4e-4},{"p":"Total","d":23,"s":2.5,"v":1.2e-4},{"p":"Total","d":23,"s":3.1,"v":5e-4},{"p":"Total","d":23.25,"s":2.6,"v":5e-4},{"p":"Total","d":23.25,"s":4.4,"v":4e-4},{"p":"Total","d":23.375,"s":3.3,"v":4e-4},{"p":"Total","d":23.5,"s":2.9,"v":1.2e-4},{"p":"Total","d":23.625,"s":3.7,"v":4e-4},{"p":"Total","d":23.75,"s":2.8,"v":8e-4},{"p":"Total","d":23.875,"s":3.4,"v":7e-4},{"p":"Total","d":23.875,"s":2.6,"v":7e-4},{"p":"Total","d":22.75,"s":4.7,"v":5e-4},{"p":"Total","d":23,"s":4.7,"v":5e-4},
{"p":"Total","d":24.875,"s":3.4,"v":6e-4},{"p":"Total","d":25,"s":2.4,"v":1e-3},{"p":"Total","d":25.125,"s":3.7,"v":6e-4},{"p":"Total","d":25.25,"s":2.8,"v":1e-3},{"p":"Total","d":25,"s":4.3,"v":6e-4},{"p":"Total","d":25.25,"s":4.6,"v":2.5e-4},{"p":"Total","d":25.75,"s":3.1,"v":7e-4},{"p":"Total","d":25.875,"s":3.5,"v":8e-4},{"p":"Total","d":26,"s":2.6,"v":1.1e-3},{"p":"Total","d":26.125,"s":3.9,"v":8e-4},{"p":"Total","d":26.25,"s":2.3,"v":1.1e-3},{"p":"Total","d":26,"s":4.3,"v":7e-4},{"p":"Total","d":25.875,"s":4.8,"v":7e-4},{"p":"Total","d":26.25,"s":4.7,"v":6e-4}
]},
"facet":{"field":"p","type":"nominal","sort":["A","B","AB","C","AC","BC","ABC","Total"],"header":{"title":null,"labels":true,"labelExpr":"''","labelFontSize":1,"labelPadding":0}},"columns":3,
"bounds":"flush","spacing":{"row":128,"column":208},
"resolve":{"scale":{"color":"independent"},"axis":{"x":"independent","y":"independent"}},
"spec":{"width":238,"height":264,"view":{"stroke":"#333","strokeWidth":2.5},
"encoding":{
"x":{"field":"d","type":"quantitative","scale":{"domain":[17,27],"nice":false,"zero":false},"axis":{"values":[18,20,22,24,26],"tickSize":0,"domain":false,"labelFontSize":26,"labelPadding":17,"titleFontSize":31,"titlePadding":15,"grid":false,"title":"Day of September 2015","labelFlush":false,"format":"d"}},
"y":{"field":"s","type":"quantitative","scale":{"type":"log","domain":[0.4,5.1],"nice":false},"axis":{"values":[1,2,3,4,5],"tickSize":-4,"tickColor":"#333","tickWidth":1.5,"domain":false,"labelFontSize":26,"labelPadding":14,"labelOverlap":false,"titleFontSize":31,"titlePadding":13,"grid":false,"title":"Particle diameter,  μm","format":"d","labelFlush":false}}},
"layer":[
{"transform":[{"filter":"isValid(datum.e)"}],"mark":{"type":"rect"},"encoding":{"x2":{"field":"e"},"y2":{"field":"t"},"color":{"field":"v","type":"quantitative","scale":{"type":"log","domain":[1e-4,1e-2],"clamp":true,"range":["#000080","#0000ff","#0080ff","#00ffff","#80ff80","#ffff00","#ff8000","#ff0000","#800000"]},"legend":{"title":null,"orient":"right","offset":17,"gradientLength":264,"gradientThickness":25,"gradientStrokeColor":"#333","gradientStrokeWidth":1.5,"values":[1e-4,1e-3,1e-2],"labelFontSize":25,"labelColor":"#222","labelOffset":11,"labelBaseline":"middle","encode":{"labels":{"update":{"baseline":{"value":"middle"}}}},"labelExpr":"datum.value>0.005?'10⁻²':datum.value>0.0005?'10⁻³':'10⁻⁴'"}}}},
{"transform":[{"filter":"!isValid(datum.e)&&isValid(datum.v)"}],"mark":{"type":"rect"},"encoding":{"x":{"field":"d","type":"quantitative","bin":{"binned":true,"step":0.125}},"y":{"field":"s","type":"quantitative","bin":{"binned":true,"step":0.1}},"color":{"field":"v","type":"quantitative"}}},
{"transform":[{"filter":"isValid(datum.k)"}],"mark":{"type":"text","font":"Liberation Sans","fontWeight":"bold","fontSize":24,"color":"white"},"encoding":{"text":{"field":"k"}}},
{"transform":[{"filter":"isValid(datum.w)"}],"mark":{"type":"text","fontSize":26.5,"angle":270,"color":"#222"},"encoding":{"text":{"field":"w"}}}
]}}
